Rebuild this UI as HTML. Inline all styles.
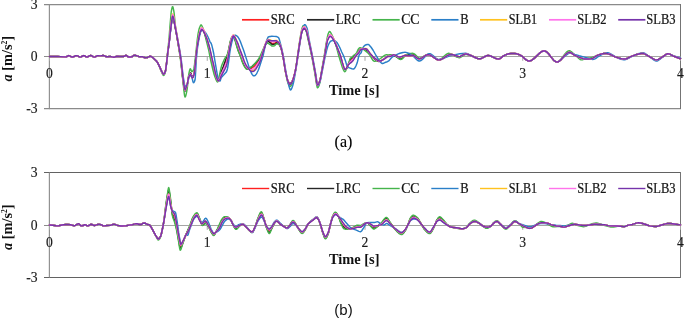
<!DOCTYPE html>
<html><head><meta charset="utf-8">
<style>
html,body{margin:0;padding:0;background:#fff;width:685px;height:318px;overflow:hidden}
svg{display:block}
.tk{font-family:"Liberation Serif",serif;font-size:13px;fill:#1a1a1a;stroke:#1a1a1a;stroke-width:0.15px}
.lg{font-family:"Liberation Serif",serif;font-size:12.6px;fill:#151515;stroke:#151515;stroke-width:0.22px}
.ttl{font-family:"Liberation Serif",serif;font-size:14.4px;font-weight:bold;fill:#111}
.capa{font-family:"Liberation Serif",serif;font-size:16px;fill:#000;stroke:#000;stroke-width:0.15px}
.capb{font-family:"Liberation Sans",sans-serif;font-size:15px;fill:#111}
</style></head><body>
<div style="will-change:transform"><svg width="685" height="318" viewBox="0 0 685 318">
<path d="M49.0 4.62 H681.0 M49.0 108.62 H681.0" stroke="#8a8a8a" stroke-width="1.25"/>
<path d="M49.4 4.0 V109.0" stroke="#929292" stroke-width="1.2"/>
<path d="M680.5 4.0 V109.0" stroke="#747474" stroke-width="1"/>
<path d="M44 4.62 H49.5" stroke="#8a8a8a" stroke-width="1.25"/>
<path d="M44 108.62 H49.5" stroke="#8a8a8a" stroke-width="1.25"/>
<path d="M44 56.5 H49.5" stroke="#8c8c8c" stroke-width="1"/>
<path d="M49.5 56.5 H680.5" stroke="#a4a4a4" stroke-width="1"/>
<path d="M49.50 57.0 V60.8" stroke="#a4a4a4" stroke-width="1"/>
<path d="M207.25 57.0 V60.8" stroke="#a4a4a4" stroke-width="1"/>
<path d="M365.00 57.0 V60.8" stroke="#a4a4a4" stroke-width="1"/>
<path d="M522.75 57.0 V60.8" stroke="#a4a4a4" stroke-width="1"/>
<path d="M680.50 57.0 V60.8" stroke="#a4a4a4" stroke-width="1"/>
<path d="M49.5 56.50L57.90 56.54 60.30 56.61 64.10 56.85 66.10 56.90 66.70 56.70 68.30 55.71 68.90 55.60 69.70 55.83 71.50 56.81 71.90 56.95 72.30 57.00 72.70 56.96 73.30 56.80 75.70 55.73 76.50 55.60 76.90 55.65 77.50 55.87 79.50 56.96 79.90 57.07 80.30 57.10 81.10 56.87 83.10 55.75 83.50 55.63 83.90 55.60 84.30 55.70 84.70 55.89 86.30 56.86 86.90 57.00 87.30 56.95 87.90 56.73 89.90 55.64 90.30 55.53 90.70 55.50 91.50 55.73 93.50 56.87 94.10 57.07 94.50 57.10 95.30 56.88 96.90 55.97 97.70 55.65 98.30 55.61 100.50 55.85 102.70 55.53 103.30 55.50 104.10 55.68 105.90 56.54 106.70 56.78 107.50 56.78 109.50 56.52 110.30 56.51 111.10 56.64 112.90 57.10 113.90 57.20 114.70 57.05 116.30 56.48 117.10 56.31 119.90 56.50 123.50 56.49 124.10 56.27 125.30 55.52 125.90 55.40 126.30 55.50 126.70 55.71 128.30 56.80 128.70 56.96 129.10 57.00 130.30 56.94 131.70 56.76 132.30 56.48 133.90 55.39 134.30 55.24 134.70 55.20 135.50 55.33 137.10 55.83 138.90 56.57 139.50 56.75 140.10 56.80 141.70 56.61 142.30 56.63 142.90 56.84 144.30 57.55 144.70 57.67 145.10 57.70 146.30 57.63 147.50 57.46 148.10 57.20 149.50 56.43 149.90 56.32 150.30 56.31 151.10 56.55 152.10 57.05 152.50 57.32 155.90 60.44 156.70 61.33 157.70 62.90 159.10 65.60 161.10 70.09 162.70 73.38 163.10 74.01 163.30 74.21 163.50 74.33 163.70 74.33 163.90 74.23 164.30 73.78 165.10 72.20 165.30 71.58 165.70 69.53 166.70 62.10 167.70 53.00 169.10 43.20 170.50 30.32 171.50 22.71 172.10 18.78 172.30 17.89 172.50 17.32 172.70 17.11 172.90 17.22 173.10 17.54 173.30 18.05 173.70 19.52 174.10 21.43 176.30 33.03 179.70 52.35 180.90 60.33 182.50 75.81 183.70 84.89 184.10 87.54 184.50 89.53 184.70 90.17 184.90 90.51 185.10 90.53 185.30 90.38 185.50 90.10 185.90 89.23 187.10 85.33 187.50 83.30 188.50 77.37 188.90 76.06 189.70 74.31 190.10 73.72 190.30 73.55 190.50 73.46 190.70 73.51 190.90 73.78 191.10 74.23 191.70 76.04 192.10 77.02 192.30 77.27 192.50 77.28 192.70 77.16 192.90 76.93 193.30 76.18 194.10 73.85 194.30 72.82 194.70 69.60 195.50 61.25 196.70 49.80 197.50 44.32 199.10 36.08 199.90 32.68 200.90 30.06 201.30 29.38 201.50 29.20 201.70 29.16 201.90 29.21 202.30 29.50 203.10 30.45 203.50 31.04 204.10 32.18 205.10 34.57 206.90 40.00 208.10 43.99 209.30 48.46 211.50 58.46 214.30 70.36 215.50 75.04 216.10 77.13 216.70 78.77 217.50 80.50 217.90 80.98 218.10 81.02 218.30 80.89 218.50 80.64 219.30 78.96 220.10 76.19 220.90 73.83 223.90 66.74 226.70 59.28 227.30 57.37 227.90 55.11 228.70 51.30 229.90 44.97 230.90 40.89 231.30 39.64 232.10 37.52 232.50 36.78 232.70 36.53 232.90 36.39 233.10 36.35 233.30 36.42 233.50 36.57 234.10 37.28 234.70 38.37 235.10 39.31 235.70 40.92 236.90 44.74 238.90 50.41 241.10 55.95 242.70 60.52 243.90 63.37 244.90 65.27 245.90 66.87 246.50 67.69 246.90 68.11 247.30 68.39 248.30 68.67 249.70 68.81 250.70 68.55 251.90 67.98 253.70 66.71 254.90 65.66 255.90 64.60 257.70 62.37 259.30 60.17 260.50 58.19 261.30 56.42 262.50 52.72 264.10 48.46 265.70 43.67 266.30 42.52 267.30 41.46 267.90 41.13 268.30 41.14 268.70 41.25 269.30 41.54 270.50 42.27 271.70 43.22 272.10 43.38 273.30 43.32 275.10 43.02 276.30 42.52 276.70 42.44 277.10 42.48 277.50 42.63 278.50 43.28 279.30 44.11 280.10 45.55 281.10 48.13 281.70 50.32 282.50 53.95 283.30 57.98 284.90 68.15 285.50 71.52 286.50 76.12 287.30 79.26 287.90 80.94 288.70 82.47 289.10 83.10 289.50 83.57 289.90 83.79 290.10 83.79 290.50 83.61 291.10 82.98 291.70 82.11 292.30 81.13 292.70 80.26 293.70 77.33 294.90 72.82 295.50 70.15 296.10 66.77 299.70 42.94 301.30 33.90 301.70 32.10 302.10 30.85 302.70 29.80 303.30 28.98 303.70 28.62 304.10 28.45 304.50 28.51 305.10 28.98 305.70 29.79 306.30 30.77 306.70 31.79 307.30 34.06 310.10 46.73 312.50 58.49 315.10 72.38 316.50 81.52 316.90 83.65 317.30 85.01 317.50 85.31 317.70 85.34 317.90 85.23 318.30 84.74 318.90 83.49 319.90 80.69 320.30 79.11 324.50 56.42 326.30 45.07 326.70 42.84 327.10 41.05 327.70 39.22 328.70 36.92 329.10 36.22 329.50 35.72 329.90 35.46 330.10 35.43 330.50 35.53 330.90 35.80 331.50 36.42 332.10 37.23 333.50 39.32 334.90 42.25 336.30 45.57 338.50 51.46 340.30 55.75 340.90 57.73 342.10 62.37 343.70 67.60 344.10 68.51 344.30 68.81 344.50 68.98 344.90 69.11 345.30 69.08 345.70 68.92 346.30 68.54 346.70 68.16 347.30 66.97 348.50 63.99 350.10 61.08 350.90 59.89 351.50 59.27 353.10 58.21 353.90 57.45 355.90 55.01 358.30 52.40 359.70 50.40 360.30 49.65 360.90 49.21 361.70 49.09 363.50 49.10 365.30 49.27 365.90 49.38 366.50 49.70 367.50 50.65 369.70 53.46 372.70 56.94 373.90 58.18 375.90 59.76 377.10 60.60 378.10 61.11 378.70 61.28 379.10 61.33 379.70 61.29 380.30 61.14 381.50 60.58 384.90 58.34 386.90 56.75 387.70 56.27 389.50 55.74 392.70 55.35 393.70 55.35 394.30 55.45 395.70 55.96 397.90 56.93 398.50 57.10 399.10 57.16 400.90 56.81 403.70 55.81 404.90 55.53 405.90 55.52 408.10 55.75 409.10 55.80 411.90 55.54 412.90 55.51 413.70 55.70 414.50 56.10 416.90 57.81 417.90 58.42 418.70 58.72 419.30 58.80 420.30 58.65 421.50 58.14 422.50 57.54 425.10 55.73 426.30 55.06 426.90 54.81 427.50 54.66 428.50 54.62 429.70 54.92 430.90 55.50 432.10 56.27 435.10 58.44 436.50 59.27 437.70 59.74 438.30 59.87 438.90 59.90 439.50 59.85 440.30 59.68 441.70 59.14 443.30 58.25 447.50 55.58 448.90 54.90 450.10 54.52 451.30 54.40 452.50 54.56 453.70 54.91 457.30 56.29 458.30 56.52 459.30 56.60 460.10 56.47 460.90 56.17 463.50 54.73 464.50 54.26 465.30 54.04 465.90 54.00 466.70 54.08 467.70 54.32 471.30 55.64 472.70 56.25 476.30 58.04 477.50 58.49 478.50 58.73 479.70 58.79 480.90 58.54 482.30 57.94 484.90 56.51 485.90 56.03 487.10 55.62 488.10 55.50 489.30 55.63 490.70 56.06 491.90 56.58 494.90 58.06 496.30 58.62 497.50 58.92 498.50 59.00 499.10 58.89 499.90 58.55 500.90 57.88 503.50 55.88 504.10 55.55 506.70 54.40 507.90 53.98 508.90 53.75 510.90 53.56 512.50 53.50 514.70 53.59 516.70 53.83 518.10 54.26 520.30 55.20 521.10 55.62 522.10 56.32 525.30 59.09 526.70 60.15 527.50 60.60 528.10 60.84 528.70 60.97 529.30 60.99 530.10 60.87 531.10 60.52 531.90 60.09 532.90 59.40 534.70 57.86 538.90 53.76 539.90 52.89 540.90 52.14 541.70 51.64 542.50 51.26 543.30 51.00 544.10 50.90 544.70 50.95 545.50 51.22 546.10 51.56 546.90 52.17 547.70 52.94 548.70 54.05 552.10 58.37 553.70 60.17 554.50 60.90 555.30 61.46 556.10 61.84 556.90 62.00 557.50 61.95 558.30 61.71 558.90 61.40 559.70 60.84 561.30 59.35 564.70 55.49 566.30 53.88 567.10 53.24 567.90 52.74 568.70 52.41 569.50 52.30 570.30 52.43 571.10 52.79 574.50 55.14 577.70 56.66 579.30 57.31 582.90 58.63 584.10 58.96 585.10 59.09 588.50 58.98 590.90 58.76 591.90 58.60 592.50 58.38 593.30 57.95 596.10 56.02 597.30 55.38 600.10 54.38 601.90 53.84 603.50 53.51 604.90 53.40 605.90 53.45 607.10 53.64 610.30 54.50 611.70 55.06 614.50 56.57 615.90 57.17 620.50 58.56 622.10 58.89 623.50 59.07 624.90 59.07 625.50 58.97 626.30 58.73 627.50 58.23 630.70 56.66 634.10 55.34 635.70 54.80 639.90 53.71 641.30 53.47 642.50 53.40 643.10 53.45 643.70 53.57 645.10 54.13 648.50 56.09 650.30 57.03 653.70 59.10 654.90 59.63 655.90 59.87 656.50 59.90 657.10 59.82 657.70 59.65 658.50 59.31 662.50 56.95 665.10 55.05 666.10 54.40 667.10 53.95 667.90 53.80 668.70 53.87 669.70 54.15 670.70 54.60 672.90 55.79 673.90 56.26 680.50 58.70" fill="none" stroke="#ff2020" stroke-width="1.45" stroke-linejoin="round" stroke-linecap="round"/>
<path d="M49.5 56.50L57.90 56.54 60.30 56.61 64.10 56.85 66.10 56.90 66.70 56.70 68.30 55.71 68.90 55.60 69.70 55.83 71.50 56.81 71.90 56.95 72.30 57.00 72.70 56.96 73.30 56.80 75.70 55.73 76.50 55.60 76.90 55.65 77.50 55.87 79.50 56.96 79.90 57.07 80.30 57.10 81.10 56.87 83.10 55.75 83.50 55.63 83.90 55.60 84.30 55.70 84.70 55.89 86.30 56.86 86.90 57.00 87.30 56.95 87.90 56.73 89.90 55.64 90.30 55.53 90.70 55.50 91.50 55.73 93.50 56.87 94.10 57.07 94.50 57.10 95.30 56.88 96.90 55.97 97.70 55.65 98.30 55.61 100.50 55.85 102.70 55.53 103.30 55.50 104.10 55.68 105.90 56.54 106.70 56.78 107.50 56.78 109.50 56.52 110.30 56.51 111.10 56.64 112.90 57.10 113.90 57.20 114.70 57.05 116.30 56.48 117.10 56.31 119.90 56.50 123.50 56.49 124.10 56.27 125.30 55.52 125.90 55.40 126.30 55.50 126.70 55.71 128.30 56.80 128.70 56.96 129.10 57.00 130.30 56.94 131.70 56.76 132.30 56.48 133.90 55.39 134.30 55.24 134.70 55.20 135.50 55.33 137.10 55.83 138.90 56.57 139.50 56.75 140.10 56.80 141.70 56.61 142.30 56.63 142.90 56.84 144.30 57.55 144.70 57.67 145.10 57.70 146.30 57.63 147.50 57.46 148.10 57.20 149.50 56.43 149.90 56.32 150.30 56.31 151.10 56.55 152.10 57.05 152.50 57.32 155.90 60.44 156.70 61.33 157.70 62.90 159.10 65.60 161.10 70.08 162.70 73.41 163.10 74.06 163.30 74.27 163.50 74.38 163.70 74.39 163.90 74.28 164.30 73.82 165.10 72.20 165.30 71.57 165.70 69.51 166.70 62.10 167.70 53.00 169.10 43.20 170.70 28.71 171.90 20.19 172.30 18.25 172.50 17.70 172.70 17.50 172.90 17.61 173.30 18.42 173.70 19.85 174.10 21.72 176.10 32.11 179.70 52.70 180.90 60.78 182.50 76.62 183.70 85.57 184.10 88.13 184.50 90.03 184.70 90.64 184.90 90.96 185.10 90.98 185.30 90.83 185.50 90.54 185.90 89.65 187.10 85.61 187.50 83.47 188.50 77.13 188.90 75.74 189.70 73.92 190.10 73.31 190.30 73.12 190.50 73.01 190.70 73.04 190.90 73.30 191.10 73.75 191.70 75.66 192.10 76.70 192.30 76.96 192.50 76.98 192.70 76.86 192.90 76.64 193.30 75.90 193.70 74.89 194.10 73.62 194.30 72.51 194.70 69.17 196.50 51.30 196.90 48.00 197.30 45.35 198.30 39.89 199.70 33.32 200.10 32.00 200.90 29.88 201.30 29.18 201.50 29.02 201.70 29.01 201.90 29.08 202.30 29.40 203.10 30.32 203.50 30.93 204.50 33.00 205.30 35.23 207.30 41.74 209.10 48.39 209.70 50.95 211.10 57.83 212.70 64.42 214.10 70.53 215.30 75.09 215.90 77.14 216.50 78.78 217.30 80.46 217.70 81.05 217.90 81.18 218.10 81.17 218.30 80.98 218.50 80.63 218.90 79.64 219.30 78.49 220.10 75.00 220.70 73.14 221.70 70.49 223.30 66.57 226.10 58.59 227.50 54.81 228.30 51.76 228.90 49.03 229.90 43.93 230.70 40.79 231.10 39.52 232.10 37.10 232.50 36.47 232.70 36.32 232.90 36.31 233.30 36.58 234.10 37.65 234.50 38.43 234.90 39.41 235.50 41.09 236.90 46.17 238.10 49.89 239.10 52.59 240.90 56.94 242.30 61.09 242.90 62.63 243.90 64.71 244.90 66.36 245.90 67.76 246.50 68.49 246.90 68.83 247.30 68.99 247.70 68.98 248.30 68.86 249.50 68.40 249.90 68.16 251.10 67.18 255.10 63.48 256.30 62.29 257.90 60.52 260.10 57.85 260.90 56.59 261.30 55.72 262.30 52.77 263.90 48.74 265.10 45.09 265.70 43.48 266.10 42.74 266.90 41.98 267.50 41.61 267.90 41.50 268.30 41.54 268.70 41.68 269.30 42.06 270.50 43.00 271.70 44.26 272.10 44.49 273.30 44.40 275.10 43.97 276.50 43.13 276.90 43.01 277.30 43.03 277.70 43.15 278.30 43.48 278.90 43.92 279.50 44.60 280.30 46.20 281.10 48.28 281.90 51.22 283.30 57.99 285.30 70.49 286.50 76.08 287.30 79.17 287.90 80.80 288.50 81.91 289.10 82.85 289.50 83.28 289.90 83.49 290.10 83.49 290.50 83.32 291.10 82.75 291.70 81.94 292.30 81.00 292.70 80.16 293.70 77.28 294.90 72.81 295.50 70.16 296.10 66.78 299.70 42.96 301.50 32.79 301.90 31.23 302.30 30.34 302.90 29.45 303.30 28.98 303.70 28.66 304.10 28.51 304.50 28.56 304.90 28.81 305.50 29.47 306.10 30.34 306.50 31.13 307.10 33.15 310.10 46.79 312.50 58.65 315.10 72.54 316.70 82.84 317.10 84.60 317.30 85.16 317.50 85.46 317.70 85.49 317.90 85.38 318.30 84.87 318.90 83.57 319.90 80.68 320.30 79.06 324.50 56.10 326.30 44.56 326.90 41.44 327.30 40.00 328.50 36.88 328.90 36.07 329.30 35.46 329.70 35.09 329.90 35.01 330.30 35.06 330.70 35.28 331.30 35.88 331.90 36.69 332.90 38.14 333.50 39.14 334.90 42.12 336.30 45.53 338.50 51.74 340.30 56.00 340.70 57.31 341.90 61.99 343.30 66.72 343.90 68.34 344.30 68.92 344.50 69.00 345.30 68.91 346.10 68.67 346.50 68.50 346.70 68.34 346.90 68.04 347.30 67.14 348.50 63.72 350.30 59.74 351.10 58.41 351.70 57.86 353.30 57.12 353.70 56.86 354.30 56.34 356.30 54.17 358.30 51.89 360.10 49.51 360.70 49.06 361.10 49.00 362.70 49.08 364.50 49.32 365.70 49.55 366.30 49.86 366.90 50.35 367.50 50.98 372.70 57.21 373.90 58.50 375.90 60.07 377.10 60.88 378.10 61.35 378.90 61.50 379.90 61.36 381.10 60.83 384.90 58.23 387.50 56.27 389.10 55.50 389.90 55.30 392.30 55.43 393.90 55.61 394.50 55.77 395.70 56.36 398.10 57.99 398.90 58.47 399.90 58.88 400.70 59.00 401.30 58.88 402.10 58.42 402.90 57.73 404.70 55.94 405.70 55.20 406.10 55.03 407.30 54.73 409.70 54.25 411.10 54.08 412.50 54.00 413.10 54.05 413.50 54.19 414.10 54.53 414.70 55.01 416.90 57.22 417.70 57.92 418.50 58.41 418.90 58.55 419.30 58.60 420.30 58.46 421.50 57.97 422.50 57.40 425.10 55.68 426.30 55.03 427.50 54.65 428.50 54.62 429.70 54.92 430.90 55.50 432.10 56.27 435.10 58.44 436.50 59.27 437.70 59.74 438.30 59.87 438.90 59.90 440.10 59.73 441.50 59.23 443.10 58.37 446.50 56.17 447.90 55.36 449.30 54.75 450.10 54.52 450.70 54.43 451.70 54.42 452.70 54.60 453.90 54.98 457.30 56.29 458.30 56.52 459.30 56.60 460.10 56.47 460.90 56.17 463.50 54.73 464.50 54.26 465.50 54.02 466.50 54.05 468.10 54.45 471.70 55.80 475.70 57.77 476.90 58.28 478.10 58.65 479.30 58.80 480.30 58.70 481.50 58.32 482.50 57.84 485.30 56.31 486.50 55.79 487.70 55.52 488.70 55.53 489.70 55.73 490.90 56.14 494.70 57.97 496.10 58.55 497.30 58.89 498.50 59.00 499.10 58.89 499.90 58.55 500.90 57.88 503.50 55.88 504.10 55.55 506.70 54.40 507.90 53.98 508.90 53.75 510.90 53.56 512.50 53.50 514.70 53.59 516.70 53.83 518.10 54.26 520.30 55.20 521.10 55.62 522.10 56.32 525.30 59.09 526.70 60.15 527.50 60.60 528.10 60.84 528.70 60.97 529.30 60.99 530.10 60.87 531.10 60.52 531.90 60.09 532.90 59.40 534.70 57.86 538.90 53.76 539.90 52.89 540.90 52.14 541.70 51.64 542.50 51.26 543.30 51.00 544.10 50.90 544.70 50.95 545.50 51.22 546.10 51.56 546.90 52.17 547.70 52.94 548.70 54.05 552.10 58.37 553.70 60.17 554.50 60.90 555.30 61.46 556.10 61.84 556.90 62.00 557.50 61.95 558.30 61.71 558.90 61.40 559.70 60.84 561.30 59.35 564.70 55.49 566.30 53.88 567.10 53.24 567.90 52.74 568.70 52.41 569.50 52.30 570.30 52.43 571.10 52.79 574.50 55.14 577.70 56.66 579.30 57.31 582.90 58.63 584.10 58.96 585.10 59.09 588.50 58.98 590.90 58.76 591.90 58.60 592.50 58.38 593.30 57.95 596.10 56.02 597.30 55.38 600.10 54.38 601.90 53.84 603.50 53.51 604.90 53.40 605.90 53.45 607.10 53.64 610.30 54.50 611.70 55.06 614.50 56.57 615.90 57.17 620.50 58.56 622.10 58.89 623.50 59.07 624.90 59.07 625.50 58.97 626.30 58.73 627.50 58.23 630.70 56.66 634.10 55.34 635.70 54.80 639.90 53.71 641.30 53.47 642.50 53.40 643.10 53.45 643.70 53.57 645.10 54.13 648.50 56.09 650.30 57.03 653.70 59.10 654.90 59.63 655.90 59.87 656.50 59.90 657.10 59.82 657.70 59.65 658.50 59.31 662.50 56.95 665.10 55.05 666.10 54.40 667.10 53.95 667.90 53.80 668.70 53.87 669.70 54.15 670.70 54.60 672.90 55.79 673.90 56.26 680.50 58.70" fill="none" stroke="#262626" stroke-width="1.45" stroke-linejoin="round" stroke-linecap="round"/>
<path d="M49.5 56.50L57.90 56.54 60.30 56.61 64.10 56.85 66.10 56.90 66.70 56.70 68.30 55.71 68.90 55.60 69.70 55.83 71.50 56.81 71.90 56.95 72.30 57.00 72.70 56.96 73.30 56.80 75.70 55.73 76.50 55.60 76.90 55.65 77.50 55.87 79.50 56.96 79.90 57.07 80.30 57.10 81.10 56.87 83.10 55.75 83.50 55.63 83.90 55.60 84.30 55.70 84.70 55.89 86.30 56.86 86.90 57.00 87.30 56.95 87.90 56.73 89.90 55.64 90.30 55.53 90.70 55.50 91.50 55.73 93.50 56.87 94.10 57.07 94.50 57.10 95.30 56.88 96.90 55.97 97.70 55.65 98.30 55.61 100.50 55.85 102.70 55.53 103.30 55.50 104.10 55.68 105.90 56.54 106.70 56.78 107.50 56.78 109.50 56.52 110.30 56.51 111.10 56.64 112.90 57.10 113.90 57.20 114.70 57.05 116.30 56.48 117.10 56.31 119.90 56.50 123.50 56.49 124.10 56.27 125.30 55.52 125.90 55.40 126.30 55.50 126.70 55.71 128.30 56.80 128.70 56.96 129.10 57.00 130.30 56.94 131.70 56.76 132.30 56.48 133.90 55.39 134.30 55.24 134.70 55.20 135.50 55.33 137.10 55.83 138.90 56.57 139.50 56.75 140.10 56.80 141.70 56.61 142.30 56.63 142.90 56.84 144.30 57.55 144.70 57.67 145.10 57.70 146.30 57.63 147.50 57.46 148.10 57.20 149.50 56.43 149.90 56.32 150.30 56.31 150.70 56.40 151.30 56.64 152.10 57.05 152.70 57.47 155.50 60.15 156.70 61.54 157.70 63.18 159.10 66.00 161.10 70.90 162.70 74.46 163.10 75.14 163.30 75.36 163.50 75.48 163.70 75.49 163.90 75.37 164.30 74.85 165.10 73.00 165.30 72.26 165.70 69.77 166.70 61.11 167.70 51.06 168.90 40.00 170.10 24.62 171.10 12.99 171.30 11.50 171.90 8.34 172.30 6.96 172.50 6.64 172.70 6.64 172.90 6.97 173.10 7.56 173.70 10.40 174.10 12.92 175.30 24.70 175.90 29.75 179.10 50.26 180.30 58.50 180.90 63.22 182.90 80.82 184.10 92.12 184.50 95.06 184.70 96.10 184.90 96.76 185.10 97.00 185.30 96.88 185.50 96.55 185.90 95.34 186.30 93.61 187.10 89.42 187.50 86.11 188.50 75.99 188.90 73.50 189.70 69.92 190.10 68.94 190.30 68.80 190.50 68.93 190.70 69.27 191.50 71.22 191.70 71.47 192.10 71.44 192.70 71.03 193.50 70.00 193.70 69.50 193.90 68.65 194.50 64.63 195.50 56.34 197.30 39.66 198.10 33.55 198.90 29.81 199.50 27.76 200.50 25.50 200.90 24.98 201.10 24.90 201.30 24.97 201.70 25.45 202.70 27.46 203.50 29.83 204.50 33.30 208.50 49.22 209.10 52.00 209.90 56.46 210.70 60.35 212.90 69.83 213.90 73.67 214.90 76.79 215.70 78.86 216.90 81.32 217.30 81.86 217.50 81.98 217.70 81.95 217.90 81.58 218.70 78.75 221.10 67.69 221.70 65.48 222.50 63.44 224.50 59.07 225.30 57.70 226.50 56.17 226.90 55.41 227.30 54.46 227.90 52.68 228.30 51.20 230.10 42.11 230.90 39.17 231.30 38.00 231.70 37.14 232.50 36.19 232.90 35.94 233.10 35.90 233.30 35.96 233.70 36.39 234.30 37.50 236.50 45.45 237.90 50.12 238.50 51.74 239.90 54.90 240.50 56.40 241.90 60.95 242.90 63.55 243.70 65.32 244.50 66.70 245.90 68.62 246.50 69.18 246.90 69.37 247.30 69.39 247.70 69.30 249.10 68.60 249.50 68.33 250.70 67.32 252.30 66.23 253.10 65.60 254.50 64.11 257.90 59.87 258.90 58.42 259.70 56.96 264.70 45.68 265.30 44.72 266.30 43.79 266.90 43.39 267.30 43.24 267.70 43.20 268.10 43.29 268.70 43.60 270.10 44.57 271.50 45.81 272.10 46.09 273.30 46.03 274.50 45.80 274.90 45.49 275.70 44.35 276.10 44.02 278.10 44.01 278.30 44.06 278.70 44.32 279.10 44.74 279.50 45.29 280.70 47.41 281.30 49.13 281.90 51.42 283.30 57.93 285.50 71.97 286.70 78.07 287.50 81.47 287.90 82.74 289.10 85.56 289.50 86.18 289.70 86.38 289.90 86.49 290.30 86.42 290.70 86.08 291.30 85.24 292.10 83.81 292.50 82.89 292.90 81.73 293.50 79.62 294.50 75.34 295.30 71.48 295.90 67.84 299.30 43.30 300.90 33.25 301.50 30.37 302.30 27.51 302.70 26.39 302.90 26.03 303.10 25.83 303.30 25.81 303.70 25.99 304.10 26.37 304.70 27.19 305.30 28.18 305.90 29.80 306.50 32.14 307.90 38.67 310.30 49.35 312.10 58.15 314.90 73.55 316.30 82.93 316.70 85.25 317.10 86.95 317.30 87.48 317.50 87.76 317.70 87.79 318.10 87.47 318.70 86.34 319.30 84.65 319.90 82.61 320.30 80.32 321.50 71.38 324.10 56.69 325.90 45.18 326.70 40.51 327.50 36.47 328.10 34.04 328.90 32.22 329.30 31.65 329.50 31.52 329.70 31.51 329.90 31.60 330.30 31.99 330.70 32.59 331.90 34.75 332.70 36.59 334.90 42.34 335.70 44.55 336.50 47.00 338.90 56.35 342.30 67.21 342.90 68.79 343.70 70.43 344.30 71.39 344.70 71.69 344.90 71.69 345.10 71.59 345.30 71.40 345.70 70.82 347.10 67.77 347.70 66.12 349.90 59.13 350.30 58.22 350.50 58.00 350.70 57.90 351.50 57.68 351.90 57.47 352.30 57.04 353.10 55.95 353.50 55.50 354.10 55.04 355.50 54.15 356.10 53.59 356.70 52.59 357.90 49.95 358.30 49.21 359.30 48.02 359.70 47.74 359.90 47.70 360.30 47.75 360.90 47.95 362.90 49.01 365.70 51.09 367.70 52.78 368.90 53.97 369.70 54.94 370.30 55.89 372.10 59.09 372.90 60.24 373.30 60.67 373.70 60.96 374.30 61.31 374.70 61.40 375.10 61.35 375.70 61.15 378.90 59.51 380.50 58.49 382.50 56.85 384.30 55.62 385.10 55.14 385.90 54.84 386.50 54.80 388.10 54.98 388.70 54.99 390.50 54.64 391.30 54.61 392.70 54.81 394.50 55.30 395.10 55.55 395.90 56.09 398.30 58.27 399.10 58.90 399.90 59.33 400.70 59.50 401.30 59.37 402.10 58.88 402.90 58.12 405.30 55.47 405.90 54.98 406.90 54.43 408.10 53.87 409.10 53.56 410.90 53.37 412.70 53.30 413.10 53.36 413.70 53.63 415.30 54.72 415.90 55.29 417.90 57.55 418.50 58.03 419.10 58.28 419.50 58.29 420.10 58.21 421.10 57.88 422.30 57.25 424.90 55.57 426.10 54.91 427.30 54.49 428.30 54.41 428.90 54.48 429.50 54.64 430.90 55.28 432.10 56.04 435.10 58.16 436.50 58.98 437.70 59.45 438.70 59.60 439.30 59.56 439.90 59.40 441.10 58.78 442.30 57.88 445.10 55.36 446.30 54.39 447.50 53.67 448.10 53.44 448.70 53.32 449.50 53.35 450.30 53.60 453.90 55.44 456.70 57.00 457.70 57.42 458.70 57.67 459.50 57.68 460.30 57.46 461.30 56.93 463.50 55.39 464.30 54.92 465.30 54.55 466.10 54.51 467.10 54.60 468.10 54.78 471.50 55.68 472.90 56.26 476.70 58.16 477.70 58.53 478.70 58.75 479.90 58.77 481.10 58.47 482.30 57.94 484.90 56.51 485.90 56.03 487.10 55.62 488.10 55.50 489.10 55.59 490.30 55.91 491.70 56.48 494.50 57.87 495.70 58.40 497.10 58.85 498.30 59.00 499.10 58.89 499.90 58.55 500.70 58.03 502.70 56.45 503.70 55.76 505.90 54.74 507.50 54.11 508.90 53.75 510.50 53.59 512.30 53.50 514.30 53.57 516.10 53.72 517.10 53.93 518.50 54.42 520.50 55.29 521.30 55.75 522.10 56.32 525.30 59.09 526.70 60.15 527.50 60.60 528.10 60.84 528.70 60.97 529.30 60.99 530.10 60.87 531.10 60.52 531.90 60.09 532.90 59.40 534.70 57.86 538.90 53.76 539.90 52.89 540.90 52.14 541.70 51.64 542.50 51.26 543.30 51.00 544.10 50.90 544.70 50.95 545.50 51.22 546.10 51.56 546.90 52.17 547.70 52.94 548.70 54.05 552.10 58.37 553.70 60.17 554.50 60.90 555.30 61.46 556.10 61.84 556.90 62.00 557.50 61.95 558.10 61.74 558.70 61.41 559.50 60.78 560.30 59.98 561.10 59.06 564.70 54.25 566.10 52.60 566.90 51.84 567.70 51.27 568.50 50.91 569.10 50.80 569.50 50.82 570.10 50.99 571.10 51.55 572.10 52.37 574.30 54.43 575.90 55.74 579.10 58.75 580.30 59.56 580.90 59.79 581.50 59.90 582.10 59.86 582.90 59.67 585.10 58.78 585.90 58.52 590.50 57.78 591.90 57.47 593.30 56.99 596.70 55.57 601.10 54.11 603.10 53.59 604.90 53.40 605.90 53.45 607.10 53.64 610.30 54.50 611.70 55.06 614.50 56.57 615.90 57.17 620.50 58.56 622.10 58.89 623.50 59.07 624.90 59.07 625.50 58.97 626.30 58.73 627.50 58.23 630.70 56.66 634.10 55.34 635.70 54.80 639.90 53.71 641.30 53.47 642.50 53.40 643.10 53.45 643.70 53.57 645.10 54.13 648.50 56.09 650.30 57.03 653.70 59.10 654.90 59.63 655.90 59.87 656.50 59.90 657.10 59.82 657.70 59.65 658.50 59.31 662.50 56.95 665.10 55.05 666.10 54.40 667.10 53.95 667.90 53.80 668.70 53.87 669.70 54.15 670.70 54.60 672.90 55.79 673.90 56.26 680.50 58.70" fill="none" stroke="#45b44b" stroke-width="1.45" stroke-linejoin="round" stroke-linecap="round"/>
<path d="M49.5 56.50L57.90 56.54 60.30 56.61 64.10 56.85 66.10 56.90 66.70 56.70 68.30 55.71 68.90 55.60 69.70 55.83 71.50 56.81 71.90 56.95 72.30 57.00 72.70 56.96 73.30 56.80 75.70 55.73 76.50 55.60 76.90 55.65 77.50 55.87 79.50 56.96 79.90 57.07 80.30 57.10 81.10 56.87 83.10 55.75 83.50 55.63 83.90 55.60 84.30 55.70 84.70 55.89 86.30 56.86 86.90 57.00 87.30 56.95 87.90 56.73 89.90 55.64 90.30 55.53 90.70 55.50 91.50 55.73 93.50 56.87 94.10 57.07 94.50 57.10 95.30 56.88 96.90 55.97 97.70 55.65 98.30 55.61 100.50 55.85 102.70 55.53 103.30 55.50 104.10 55.68 105.90 56.54 106.70 56.78 107.50 56.78 109.50 56.52 110.30 56.51 111.10 56.64 112.90 57.10 113.90 57.20 114.70 57.05 116.30 56.48 117.10 56.31 119.90 56.50 123.50 56.49 124.10 56.27 125.30 55.52 125.90 55.40 126.30 55.50 126.70 55.71 128.30 56.80 128.70 56.96 129.10 57.00 130.30 56.94 131.70 56.76 132.30 56.48 133.90 55.39 134.30 55.24 134.70 55.20 135.50 55.33 137.10 55.83 138.90 56.57 139.50 56.75 140.10 56.80 141.70 56.61 142.30 56.63 142.90 56.84 144.30 57.55 144.70 57.67 145.10 57.70 146.30 57.63 147.50 57.46 148.10 57.20 149.50 56.43 149.90 56.32 150.30 56.31 151.10 56.55 152.10 57.05 152.50 57.32 155.90 60.44 156.70 61.33 157.70 62.90 159.10 65.60 161.10 70.11 162.70 73.28 163.10 73.89 163.30 74.08 163.50 74.19 163.70 74.19 163.90 74.11 164.30 73.73 165.10 72.40 165.50 71.09 165.90 68.92 166.90 61.71 167.90 52.22 169.10 44.00 170.50 31.18 171.70 21.91 172.30 18.20 172.50 17.46 172.70 17.05 172.90 17.03 173.10 17.22 173.50 18.13 173.90 19.59 174.30 21.42 176.90 34.37 179.30 47.55 180.30 53.41 181.30 60.00 182.70 72.43 183.30 77.00 184.50 84.33 184.90 85.90 185.10 86.34 185.30 86.50 185.70 86.36 186.10 85.97 186.50 85.41 187.30 84.00 187.70 82.88 188.70 78.66 189.10 77.37 189.30 77.00 189.70 76.51 190.50 75.75 191.10 75.51 191.30 75.54 191.50 75.84 191.90 77.09 192.90 81.49 193.30 82.55 193.50 82.70 193.70 82.64 194.10 82.22 194.50 81.43 194.90 80.32 195.10 79.47 195.30 77.36 196.30 60.00 197.10 51.39 197.70 46.53 198.70 40.45 200.10 33.52 200.50 32.22 201.10 31.08 201.70 30.26 202.10 30.01 202.30 30.01 202.70 30.13 203.90 30.89 204.90 31.91 205.70 33.00 206.90 34.94 207.90 36.76 208.70 38.47 209.90 41.61 210.30 42.26 211.10 43.31 211.50 44.26 211.90 45.65 212.90 49.74 213.70 53.50 215.50 64.35 217.90 78.18 218.30 79.63 218.50 80.00 219.30 80.75 219.90 80.99 220.10 80.94 220.30 80.51 220.90 78.43 221.50 77.40 222.70 75.98 224.10 74.60 226.10 72.34 226.50 71.78 226.90 70.83 227.50 68.50 227.90 66.34 228.50 62.40 229.90 52.00 230.50 48.45 231.30 44.51 232.10 41.19 233.10 37.99 233.70 36.64 234.30 35.87 234.70 35.47 235.10 35.23 235.30 35.20 235.70 35.27 236.50 35.70 237.30 36.33 237.90 37.04 238.50 37.88 239.10 38.93 239.90 40.55 240.70 42.41 243.70 50.57 249.10 67.15 250.50 71.08 251.30 72.92 252.10 74.40 253.10 75.56 253.50 75.79 253.70 75.80 254.50 75.70 255.10 75.51 255.50 75.15 256.30 74.12 256.90 73.05 257.90 70.97 259.10 68.10 261.50 60.41 262.70 57.05 263.10 55.67 264.90 47.42 266.30 41.54 266.90 39.76 267.90 37.54 268.30 36.99 268.70 36.77 270.30 36.44 271.90 36.30 274.10 36.35 276.30 36.54 277.30 36.85 278.10 37.29 278.50 37.59 278.70 37.87 279.30 39.34 280.90 45.09 281.70 48.32 282.70 52.91 283.70 58.01 285.70 70.30 287.70 81.09 288.30 83.64 289.50 87.97 290.10 89.52 290.30 89.82 290.50 89.98 290.70 89.98 290.90 89.86 291.10 89.63 291.70 88.45 292.70 85.71 293.50 82.66 294.50 77.57 296.30 67.35 298.10 55.74 300.10 41.85 301.70 32.32 302.30 29.64 303.30 26.81 303.70 25.88 304.10 25.16 304.50 24.71 304.70 24.61 304.90 24.61 305.30 24.84 305.70 25.32 306.10 26.00 307.10 28.27 307.50 29.84 309.10 39.47 312.30 55.08 313.90 63.67 315.50 72.56 317.10 83.18 317.50 84.87 317.70 85.33 317.90 85.50 318.10 85.45 318.30 85.30 318.90 84.38 319.70 82.40 320.50 79.99 321.10 77.24 324.90 57.87 326.70 50.15 327.70 46.55 328.10 45.45 328.90 43.77 329.70 42.34 330.30 41.53 330.70 41.17 331.10 40.96 332.30 40.58 333.30 40.42 333.90 40.41 334.50 40.58 335.10 40.90 335.90 41.50 336.70 42.19 337.10 42.66 338.10 44.27 339.90 47.83 341.70 52.00 343.30 55.28 343.90 56.64 345.50 61.00 346.70 65.10 347.10 66.10 347.30 66.40 348.30 67.27 349.50 67.93 351.90 68.74 353.30 68.99 353.70 68.99 353.90 68.93 354.50 68.43 355.30 67.16 356.10 65.49 357.10 63.07 357.50 61.58 358.50 57.24 359.10 55.22 359.50 54.49 359.90 54.02 360.70 53.28 361.10 52.76 361.30 52.40 362.30 48.95 362.70 48.03 363.30 47.08 363.90 46.28 364.50 45.65 364.90 45.33 365.50 45.00 366.30 44.72 367.10 44.51 367.90 44.40 368.50 44.50 369.10 44.93 371.10 47.23 373.10 50.26 376.30 55.99 378.70 59.95 379.30 60.77 381.10 62.80 381.70 63.28 382.30 63.49 382.70 63.47 383.30 63.30 384.90 62.54 387.30 61.72 388.30 61.22 389.30 60.34 391.30 58.05 392.10 57.24 393.70 56.09 395.50 55.04 397.70 54.07 399.90 53.29 403.10 52.51 404.10 52.35 404.90 52.30 405.90 52.39 406.90 52.66 409.10 53.54 410.30 54.17 413.30 56.26 414.30 57.20 416.30 59.26 417.30 60.15 418.30 60.77 418.90 60.96 419.30 61.00 419.70 60.97 420.30 60.80 420.90 60.52 421.50 60.13 422.90 58.91 425.50 56.19 426.70 55.05 427.90 54.18 428.50 53.90 429.10 53.73 429.50 53.70 430.10 53.77 430.70 53.96 431.30 54.27 432.70 55.29 435.30 57.65 436.50 58.61 437.10 58.99 437.70 59.28 438.30 59.45 438.90 59.50 440.50 59.34 442.30 58.87 444.10 58.20 448.50 56.33 449.70 55.90 450.90 55.57 456.50 54.39 459.90 53.79 462.90 53.43 465.70 53.30 466.50 53.38 467.50 53.72 470.30 55.22 472.10 56.04 475.50 57.75 476.90 58.32 478.30 58.70 479.10 58.79 479.70 58.79 480.90 58.54 482.30 57.94 484.90 56.51 485.90 56.03 487.10 55.62 488.10 55.50 489.10 55.59 490.30 55.91 491.70 56.48 494.50 57.87 495.70 58.40 497.10 58.85 498.30 59.00 499.10 58.89 500.10 58.43 500.90 57.88 502.90 56.30 503.90 55.65 506.30 54.57 507.90 53.98 509.10 53.72 511.90 53.51 513.70 53.53 516.10 53.72 516.90 53.88 517.90 54.19 520.70 55.39 521.50 55.88 522.30 56.48 525.30 59.09 526.70 60.15 527.50 60.60 528.10 60.84 528.70 60.97 529.50 60.98 530.30 60.82 531.30 60.42 532.10 59.96 533.10 59.25 534.90 57.67 538.90 53.76 539.90 52.89 540.90 52.14 541.70 51.64 542.50 51.26 543.30 51.00 544.10 50.90 544.70 50.95 545.50 51.22 546.10 51.56 546.90 52.17 547.70 52.94 548.70 54.05 552.10 58.37 553.70 60.17 554.50 60.90 555.30 61.46 556.10 61.84 556.90 62.00 557.30 61.98 557.90 61.85 558.50 61.59 559.10 61.24 560.50 60.11 563.30 57.37 564.50 56.35 568.30 53.66 569.30 53.18 569.90 53.03 570.30 53.00 570.90 53.05 571.70 53.23 574.70 54.40 579.10 55.75 586.30 57.58 590.70 59.15 591.70 59.39 592.70 59.50 593.70 59.40 594.90 58.91 595.90 58.30 598.30 56.53 599.30 55.87 603.50 53.75 604.50 53.32 605.50 52.97 606.50 52.76 607.30 52.70 607.90 52.75 608.70 52.94 610.30 53.62 612.50 54.78 615.50 56.94 618.10 58.13 619.70 58.78 621.10 59.26 622.50 59.61 623.70 59.77 624.90 59.77 625.50 59.64 626.30 59.36 627.30 58.88 630.50 57.06 636.30 54.53 638.10 53.81 639.30 53.41 640.50 53.09 641.70 52.88 642.70 52.80 643.30 52.82 643.90 52.94 644.50 53.17 645.30 53.60 646.30 54.29 648.50 55.97 650.30 57.18 653.70 59.85 654.90 60.56 655.50 60.81 656.10 60.96 656.70 61.00 657.10 60.94 657.70 60.75 658.30 60.43 659.30 59.73 661.30 58.09 662.90 56.96 665.70 54.70 666.70 54.12 667.70 53.82 668.70 53.86 669.70 54.11 673.90 55.97 677.30 57.06 680.50 58.00" fill="none" stroke="#2a7fc8" stroke-width="1.45" stroke-linejoin="round" stroke-linecap="round"/>
<path d="M49.5 56.50L57.90 56.54 60.30 56.61 64.10 56.85 66.10 56.90 66.70 56.70 68.30 55.71 68.90 55.60 69.70 55.83 71.50 56.81 71.90 56.95 72.30 57.00 72.70 56.96 73.30 56.80 75.70 55.73 76.50 55.60 76.90 55.65 77.50 55.87 79.50 56.96 79.90 57.07 80.30 57.10 81.10 56.87 83.10 55.75 83.50 55.63 83.90 55.60 84.30 55.70 84.70 55.89 86.30 56.86 86.90 57.00 87.30 56.95 87.90 56.73 89.90 55.64 90.30 55.53 90.70 55.50 91.50 55.73 93.50 56.87 94.10 57.07 94.50 57.10 95.30 56.88 96.90 55.97 97.70 55.65 98.30 55.61 100.50 55.85 102.70 55.53 103.30 55.50 104.10 55.68 105.90 56.54 106.70 56.78 107.50 56.78 109.50 56.52 110.30 56.51 111.10 56.64 112.90 57.10 113.90 57.20 114.70 57.05 116.30 56.48 117.10 56.31 119.90 56.50 123.50 56.49 124.10 56.27 125.30 55.52 125.90 55.40 126.30 55.50 126.70 55.71 128.30 56.80 128.70 56.96 129.10 57.00 130.30 56.94 131.70 56.76 132.30 56.48 133.90 55.39 134.30 55.24 134.70 55.20 135.50 55.33 137.10 55.83 138.90 56.57 139.50 56.75 140.10 56.80 141.70 56.61 142.30 56.63 142.90 56.84 144.30 57.55 144.70 57.67 145.10 57.70 146.30 57.63 147.50 57.46 148.10 57.20 149.50 56.43 149.90 56.32 150.30 56.31 151.10 56.55 152.10 57.05 152.50 57.32 155.90 60.44 156.70 61.33 157.70 62.90 159.10 65.60 161.10 70.10 162.70 73.31 163.10 73.92 163.30 74.12 163.50 74.23 163.70 74.23 163.90 74.13 164.30 73.71 165.10 72.20 165.50 70.69 165.90 68.22 166.90 60.44 167.70 52.79 169.10 42.41 170.50 28.80 171.70 18.75 172.10 15.95 172.30 14.95 172.50 14.29 172.70 14.06 172.90 14.18 173.10 14.53 173.30 15.09 173.90 17.71 175.10 24.77 176.50 32.43 179.50 50.26 181.10 61.11 182.70 76.19 183.90 85.22 184.50 88.70 184.70 89.38 184.90 89.75 185.10 89.78 185.30 89.64 185.50 89.37 185.90 88.53 186.90 85.51 187.30 84.03 188.50 77.77 188.90 76.57 189.70 74.95 190.10 74.42 190.30 74.26 190.50 74.20 190.70 74.29 191.10 75.01 191.90 77.17 192.10 77.55 192.30 77.77 192.50 77.78 192.70 77.66 192.90 77.42 193.30 76.64 194.10 74.21 194.30 73.35 194.70 70.31 196.70 49.84 197.10 46.61 197.70 42.68 199.30 34.05 199.90 31.39 200.30 30.22 200.90 28.79 201.30 28.10 201.50 27.89 201.70 27.79 201.90 27.80 202.10 27.90 202.70 28.54 203.50 29.70 204.10 30.85 205.30 33.72 207.50 40.19 208.70 44.34 209.70 48.30 211.90 58.47 213.30 64.27 214.90 71.31 215.90 75.35 216.50 77.46 217.30 79.54 217.70 80.37 217.90 80.64 218.10 80.78 218.50 80.64 218.90 80.26 219.30 79.74 219.90 78.65 221.10 75.43 224.70 68.08 225.90 65.37 226.50 63.82 227.10 61.57 228.10 56.92 229.90 46.13 230.90 41.32 231.50 39.04 232.10 37.13 232.90 35.33 233.10 35.05 233.30 34.92 233.50 34.95 233.90 35.26 234.70 36.34 235.90 39.00 237.90 44.00 239.30 48.30 243.90 61.14 244.50 62.58 245.30 64.26 246.30 66.05 246.90 66.90 247.50 67.59 249.90 69.83 250.50 70.18 251.50 70.52 251.90 70.55 252.30 70.49 253.70 69.96 254.30 69.54 255.10 68.77 255.90 67.77 257.50 65.36 258.50 63.77 259.30 62.36 260.30 60.24 261.30 57.57 261.70 56.32 262.70 52.67 264.10 48.46 265.90 42.66 266.50 41.34 267.50 39.86 267.90 39.54 268.50 39.53 269.50 39.79 271.50 40.51 272.10 40.64 274.50 40.56 276.30 40.41 276.70 40.51 277.10 40.71 278.10 41.49 278.50 41.90 279.10 42.68 279.90 44.13 280.70 46.06 281.30 48.12 282.10 51.75 283.30 57.98 284.90 68.13 285.50 71.51 286.50 76.20 287.30 79.42 287.90 81.18 289.10 83.53 289.50 84.04 289.70 84.20 289.90 84.29 290.30 84.22 290.70 83.89 291.30 83.08 292.10 81.72 292.70 80.42 293.70 77.42 295.10 72.00 295.70 69.07 296.30 65.50 297.90 55.04 299.70 42.10 301.30 32.78 301.90 30.19 302.30 29.15 302.90 27.97 303.30 27.33 303.70 26.88 304.10 26.66 304.50 26.73 304.90 27.06 305.70 28.25 306.50 29.88 307.10 31.96 310.10 46.03 312.90 60.30 315.30 73.25 316.70 82.36 317.10 84.17 317.30 84.75 317.50 85.06 317.70 85.09 317.90 84.99 318.30 84.53 318.70 83.80 319.10 82.86 319.90 80.71 320.50 78.26 324.50 56.96 325.10 53.35 326.50 44.03 326.90 41.79 327.30 40.02 327.90 38.30 328.90 36.19 329.30 35.57 329.70 35.13 329.90 35.00 330.30 34.91 330.70 35.03 331.10 35.32 331.50 35.73 332.10 36.51 333.50 38.61 334.70 41.15 336.70 45.97 340.30 55.25 340.90 57.19 342.30 62.55 343.90 67.69 344.50 68.95 344.90 69.34 345.10 69.39 345.30 69.35 345.70 69.12 346.10 68.71 346.50 68.17 346.90 67.50 348.10 65.09 348.50 64.43 348.90 63.93 350.10 62.62 352.30 60.71 353.10 59.84 355.90 55.63 356.50 54.92 357.90 53.51 358.50 52.78 360.10 50.13 360.70 49.32 361.10 48.97 361.50 48.81 363.10 48.58 364.50 48.49 365.90 48.51 366.30 48.63 366.70 48.88 367.10 49.25 367.70 49.98 370.10 53.43 372.70 56.47 373.50 57.28 374.50 58.16 377.30 60.26 378.50 60.88 379.10 61.04 379.50 61.08 380.10 61.04 380.70 60.89 382.10 60.24 384.90 58.51 386.70 57.03 387.50 56.53 387.90 56.41 389.50 56.34 390.10 56.23 390.70 56.01 392.70 55.08 393.30 54.91 393.70 54.87 394.30 54.93 394.90 55.11 395.70 55.48 397.90 56.65 398.70 56.94 399.30 57.03 400.10 56.97 400.90 56.81 403.70 55.81 404.90 55.53 405.90 55.52 408.90 55.80 409.90 55.76 412.10 55.52 413.10 55.53 413.70 55.70 414.50 56.10 417.70 58.31 418.50 58.67 419.30 58.80 420.30 58.65 421.50 58.14 422.50 57.54 425.10 55.73 426.30 55.06 426.90 54.81 427.50 54.66 428.50 54.62 429.70 54.92 430.90 55.50 432.10 56.27 435.10 58.44 436.50 59.27 437.70 59.74 438.30 59.87 438.90 59.90 440.10 59.73 441.50 59.23 443.10 58.37 446.50 56.17 447.90 55.36 449.30 54.75 450.10 54.52 450.70 54.43 451.70 54.42 452.70 54.60 453.90 54.98 457.30 56.29 458.30 56.52 459.30 56.60 460.10 56.47 460.90 56.17 463.50 54.73 464.50 54.26 465.50 54.02 466.50 54.05 468.10 54.45 471.70 55.80 475.70 57.77 476.90 58.28 478.10 58.65 479.30 58.80 480.30 58.70 481.50 58.32 482.50 57.84 485.30 56.31 486.50 55.79 487.70 55.52 488.70 55.53 489.70 55.73 490.90 56.14 494.70 57.97 496.10 58.55 497.30 58.89 498.50 59.00 499.10 58.89 499.90 58.55 500.90 57.88 503.50 55.88 504.10 55.55 506.70 54.40 507.90 53.98 508.90 53.75 510.90 53.56 512.50 53.50 514.70 53.59 516.70 53.83 518.10 54.26 520.30 55.20 521.10 55.62 522.10 56.32 525.30 59.09 526.70 60.15 527.50 60.60 528.10 60.84 528.70 60.97 529.30 60.99 530.10 60.87 531.10 60.52 531.90 60.09 532.90 59.40 534.70 57.86 538.90 53.76 539.90 52.89 540.90 52.14 541.70 51.64 542.50 51.26 543.30 51.00 544.10 50.90 544.70 50.95 545.50 51.22 546.10 51.56 546.90 52.17 547.70 52.94 548.70 54.05 552.10 58.37 553.70 60.17 554.50 60.90 555.30 61.46 556.10 61.84 556.90 62.00 557.50 61.95 558.30 61.71 558.90 61.40 559.70 60.84 561.30 59.35 564.70 55.49 566.30 53.88 567.10 53.24 567.90 52.74 568.70 52.41 569.50 52.30 570.30 52.43 571.10 52.79 574.50 55.14 577.70 56.66 579.30 57.31 582.90 58.63 584.10 58.96 585.10 59.09 588.50 58.98 590.90 58.76 591.90 58.60 592.50 58.38 593.30 57.95 596.10 56.02 597.30 55.38 600.10 54.38 601.90 53.84 603.50 53.51 604.90 53.40 605.90 53.45 607.10 53.64 610.30 54.50 611.70 55.06 614.50 56.57 615.90 57.17 620.50 58.56 622.10 58.89 623.50 59.07 624.90 59.07 625.50 58.97 626.30 58.73 627.50 58.23 630.70 56.66 634.10 55.34 635.70 54.80 639.90 53.71 641.30 53.47 642.50 53.40 643.10 53.45 643.70 53.57 645.10 54.13 648.50 56.09 650.30 57.03 653.70 59.10 654.90 59.63 655.90 59.87 656.50 59.90 657.10 59.82 657.70 59.65 658.50 59.31 662.50 56.95 665.10 55.05 666.10 54.40 667.10 53.95 667.90 53.80 668.70 53.87 669.70 54.15 670.70 54.60 672.90 55.79 673.90 56.26 680.50 58.70" fill="none" stroke="#ffc21f" stroke-width="1.45" stroke-linejoin="round" stroke-linecap="round"/>
<path d="M49.5 56.50L57.90 56.54 60.30 56.61 64.10 56.85 66.10 56.90 66.70 56.70 68.30 55.71 68.90 55.60 69.70 55.83 71.50 56.81 71.90 56.95 72.30 57.00 72.70 56.96 73.30 56.80 75.70 55.73 76.50 55.60 76.90 55.65 77.50 55.87 79.50 56.96 79.90 57.07 80.30 57.10 81.10 56.87 83.10 55.75 83.50 55.63 83.90 55.60 84.30 55.70 84.70 55.89 86.30 56.86 86.90 57.00 87.30 56.95 87.90 56.73 89.90 55.64 90.30 55.53 90.70 55.50 91.50 55.73 93.50 56.87 94.10 57.07 94.50 57.10 95.30 56.88 96.90 55.97 97.70 55.65 98.30 55.61 100.50 55.85 102.70 55.53 103.30 55.50 104.10 55.68 105.90 56.54 106.70 56.78 107.50 56.78 109.50 56.52 110.30 56.51 111.10 56.64 112.90 57.10 113.90 57.20 114.70 57.05 116.30 56.48 117.10 56.31 119.90 56.50 123.50 56.49 124.10 56.27 125.30 55.52 125.90 55.40 126.30 55.50 126.70 55.71 128.30 56.80 128.70 56.96 129.10 57.00 130.30 56.94 131.70 56.76 132.30 56.48 133.90 55.39 134.30 55.24 134.70 55.20 135.50 55.33 137.10 55.83 138.90 56.57 139.50 56.75 140.10 56.80 141.70 56.61 142.30 56.63 142.90 56.84 144.30 57.55 144.70 57.67 145.10 57.70 146.30 57.63 147.50 57.46 148.10 57.20 149.50 56.43 149.90 56.32 150.30 56.31 151.10 56.55 152.10 57.05 152.50 57.32 155.90 60.44 156.70 61.33 157.70 62.90 159.10 65.60 161.10 70.10 162.70 73.34 163.10 73.96 163.30 74.16 163.50 74.27 163.70 74.27 163.90 74.17 164.30 73.74 165.10 72.20 165.30 71.59 165.70 69.54 166.90 60.44 167.70 52.82 169.10 42.54 170.50 29.04 171.70 19.25 172.10 16.56 172.30 15.59 172.50 14.96 172.70 14.73 172.90 14.85 173.10 15.20 173.30 15.74 173.90 18.29 176.30 31.65 179.50 50.56 180.30 55.69 181.10 61.46 182.50 74.99 183.90 85.65 184.50 89.03 184.70 89.70 184.90 90.05 185.10 90.08 185.30 89.94 185.50 89.66 185.90 88.81 186.90 85.72 187.30 84.18 188.50 77.61 188.90 76.37 189.70 74.69 190.10 74.14 190.30 73.98 190.50 73.91 190.70 73.98 191.10 74.70 191.70 76.42 192.10 77.34 192.30 77.57 192.50 77.58 192.70 77.46 192.90 77.22 193.30 76.46 194.10 74.07 194.30 73.14 194.70 70.02 196.70 49.73 197.50 43.90 199.10 35.20 199.90 31.58 200.30 30.40 200.90 28.92 201.30 28.23 201.50 28.03 201.70 27.95 202.10 28.09 202.70 28.73 203.50 29.88 204.10 31.04 204.70 32.41 205.30 33.99 207.30 40.04 208.50 44.18 209.50 48.10 211.70 58.28 214.50 70.23 215.70 75.04 216.30 77.19 217.10 79.30 217.70 80.54 217.90 80.78 218.10 80.88 218.30 80.81 218.70 80.40 219.30 79.43 219.90 77.94 221.10 74.59 224.30 67.64 226.50 62.24 227.10 60.16 227.90 56.80 229.90 45.50 230.90 40.92 231.50 38.81 232.10 37.01 232.70 35.75 233.10 35.29 233.30 35.24 233.70 35.49 234.30 36.23 234.70 36.90 235.30 38.25 237.90 45.32 239.10 48.94 241.10 54.33 242.50 58.34 243.90 62.03 244.70 63.78 246.10 66.31 246.70 67.15 247.10 67.59 247.90 68.22 249.30 69.10 249.90 69.41 250.30 69.53 251.30 69.60 252.10 69.46 253.70 68.66 254.30 68.21 255.30 67.24 256.10 66.24 258.10 63.39 259.30 61.48 260.30 59.57 261.30 57.11 262.70 52.40 264.10 48.34 265.30 44.42 265.90 42.70 266.50 41.52 267.50 40.23 267.90 39.96 268.30 39.95 268.70 40.03 270.50 40.80 271.70 41.45 272.10 41.56 273.30 41.53 274.90 41.37 276.10 41.10 276.50 41.06 277.10 41.23 278.10 41.90 279.10 42.98 279.90 44.38 280.70 46.30 281.50 49.08 282.10 51.81 283.30 57.98 285.30 70.47 286.50 76.17 287.30 79.36 287.90 81.09 288.70 82.69 289.10 83.36 289.50 83.85 289.70 84.01 289.90 84.09 290.30 84.02 290.70 83.71 291.30 82.93 292.10 81.63 292.70 80.35 293.70 77.38 294.90 72.83 295.50 70.14 296.30 65.51 297.90 55.05 299.70 42.24 301.30 32.91 301.70 31.06 302.10 29.74 302.70 28.55 303.30 27.61 303.70 27.18 304.10 26.98 304.50 27.05 304.90 27.36 305.70 28.49 306.50 30.06 307.10 32.14 310.10 46.18 312.70 59.37 315.30 73.37 316.70 82.48 317.10 84.28 317.30 84.85 317.50 85.16 317.70 85.19 317.90 85.08 318.30 84.62 318.70 83.86 319.10 82.91 319.90 80.70 320.50 78.21 324.50 56.74 326.30 45.03 327.10 40.70 327.70 38.71 328.70 36.42 329.10 35.71 329.50 35.19 329.90 34.88 330.10 34.83 330.50 34.88 330.90 35.12 331.30 35.50 331.90 36.24 333.30 38.30 334.50 40.74 336.30 45.06 338.50 50.91 340.30 55.44 340.90 57.41 342.10 62.06 343.50 66.71 343.90 67.85 344.30 68.70 344.50 68.97 344.90 69.25 345.10 69.28 345.50 69.16 345.90 68.89 346.70 67.97 347.10 67.24 348.30 64.61 348.70 63.95 349.90 62.26 351.10 60.89 352.70 59.59 353.50 58.72 355.90 55.35 358.50 52.46 359.90 50.23 360.50 49.42 360.90 49.05 361.30 48.86 363.30 48.67 365.70 48.73 366.10 48.82 366.70 49.18 367.10 49.56 367.70 50.27 369.90 53.35 372.50 56.43 373.70 57.68 376.10 59.60 377.30 60.45 378.30 60.95 379.30 61.17 379.90 61.14 380.50 61.00 381.10 60.76 381.90 60.34 384.90 58.44 386.90 56.83 387.70 56.38 390.30 55.94 392.50 55.23 393.50 55.05 394.10 55.08 394.70 55.24 395.70 55.66 397.90 56.77 398.70 57.01 399.30 57.08 400.90 56.81 403.70 55.81 404.90 55.53 405.90 55.52 408.90 55.80 409.90 55.76 412.10 55.52 413.10 55.53 413.70 55.70 414.50 56.10 417.70 58.31 418.50 58.67 419.30 58.80 420.30 58.65 421.50 58.14 422.50 57.54 425.10 55.73 426.30 55.06 426.90 54.81 427.50 54.66 428.50 54.62 429.70 54.92 430.90 55.50 432.10 56.27 435.10 58.44 436.50 59.27 437.70 59.74 438.30 59.87 438.90 59.90 440.10 59.73 441.50 59.23 443.10 58.37 446.50 56.17 447.90 55.36 449.30 54.75 450.10 54.52 450.70 54.43 451.70 54.42 452.70 54.60 453.90 54.98 457.30 56.29 458.30 56.52 459.30 56.60 460.10 56.47 460.90 56.17 463.50 54.73 464.50 54.26 465.50 54.02 466.50 54.05 468.10 54.45 471.70 55.80 475.70 57.77 476.90 58.28 478.10 58.65 479.30 58.80 480.30 58.70 481.50 58.32 482.50 57.84 485.30 56.31 486.50 55.79 487.70 55.52 488.70 55.53 489.70 55.73 490.90 56.14 494.70 57.97 496.10 58.55 497.30 58.89 498.50 59.00 499.10 58.89 499.90 58.55 500.90 57.88 503.50 55.88 504.10 55.55 506.70 54.40 507.90 53.98 508.90 53.75 510.90 53.56 512.50 53.50 514.70 53.59 516.70 53.83 518.10 54.26 520.30 55.20 521.10 55.62 522.10 56.32 525.30 59.09 526.70 60.15 527.50 60.60 528.10 60.84 528.70 60.97 529.30 60.99 530.10 60.87 531.10 60.52 531.90 60.09 532.90 59.40 534.70 57.86 538.90 53.76 539.90 52.89 540.90 52.14 541.70 51.64 542.50 51.26 543.30 51.00 544.10 50.90 544.70 50.95 545.50 51.22 546.10 51.56 546.90 52.17 547.70 52.94 548.70 54.05 552.10 58.37 553.70 60.17 554.50 60.90 555.30 61.46 556.10 61.84 556.90 62.00 557.50 61.95 558.30 61.71 558.90 61.40 559.70 60.84 561.30 59.35 564.70 55.49 566.30 53.88 567.10 53.24 567.90 52.74 568.70 52.41 569.50 52.30 570.30 52.43 571.10 52.79 574.50 55.14 577.70 56.66 579.30 57.31 582.90 58.63 584.10 58.96 585.10 59.09 588.50 58.98 590.90 58.76 591.90 58.60 592.50 58.38 593.30 57.95 596.10 56.02 597.30 55.38 600.10 54.38 601.90 53.84 603.50 53.51 604.90 53.40 605.90 53.45 607.10 53.64 610.30 54.50 611.70 55.06 614.50 56.57 615.90 57.17 620.50 58.56 622.10 58.89 623.50 59.07 624.90 59.07 625.50 58.97 626.30 58.73 627.50 58.23 630.70 56.66 634.10 55.34 635.70 54.80 639.90 53.71 641.30 53.47 642.50 53.40 643.10 53.45 643.70 53.57 645.10 54.13 648.50 56.09 650.30 57.03 653.70 59.10 654.90 59.63 655.90 59.87 656.50 59.90 657.10 59.82 657.70 59.65 658.50 59.31 662.50 56.95 665.10 55.05 666.10 54.40 667.10 53.95 667.90 53.80 668.70 53.87 669.70 54.15 670.70 54.60 672.90 55.79 673.90 56.26 680.50 58.70" fill="none" stroke="#ff73eb" stroke-width="1.45" stroke-linejoin="round" stroke-linecap="round"/>
<path d="M49.5 56.50L57.90 56.54 60.30 56.61 64.10 56.85 66.10 56.90 66.70 56.70 68.30 55.71 68.90 55.60 69.70 55.83 71.50 56.81 71.90 56.95 72.30 57.00 72.70 56.96 73.30 56.80 75.70 55.73 76.50 55.60 76.90 55.65 77.50 55.87 79.50 56.96 79.90 57.07 80.30 57.10 81.10 56.87 83.10 55.75 83.50 55.63 83.90 55.60 84.30 55.70 84.70 55.89 86.30 56.86 86.90 57.00 87.30 56.95 87.90 56.73 89.90 55.64 90.30 55.53 90.70 55.50 91.50 55.73 93.50 56.87 94.10 57.07 94.50 57.10 95.30 56.88 96.90 55.97 97.70 55.65 98.30 55.61 100.50 55.85 102.70 55.53 103.30 55.50 104.10 55.68 105.90 56.54 106.70 56.78 107.50 56.78 109.50 56.52 110.30 56.51 111.10 56.64 112.90 57.10 113.90 57.20 114.70 57.05 116.30 56.48 117.10 56.31 119.90 56.50 123.50 56.49 124.10 56.27 125.30 55.52 125.90 55.40 126.30 55.50 126.70 55.71 128.30 56.80 128.70 56.96 129.10 57.00 130.30 56.94 131.70 56.76 132.30 56.48 133.90 55.39 134.30 55.24 134.70 55.20 135.50 55.33 137.10 55.83 138.90 56.57 139.50 56.75 140.10 56.80 141.70 56.61 142.30 56.63 142.90 56.84 144.30 57.55 144.70 57.67 145.10 57.70 146.30 57.63 147.50 57.46 148.10 57.20 149.50 56.43 149.90 56.32 150.30 56.31 151.10 56.55 152.10 57.05 152.50 57.32 155.90 60.44 156.70 61.33 157.70 62.90 159.10 65.60 161.10 70.11 162.70 73.28 163.10 73.89 163.30 74.08 163.50 74.19 163.70 74.19 163.90 74.10 164.30 73.68 165.10 72.20 165.30 71.60 165.70 69.55 166.70 62.10 167.70 53.00 169.10 43.21 170.50 30.39 171.70 20.74 172.10 18.04 172.30 17.06 172.50 16.43 172.70 16.20 172.90 16.32 173.10 16.66 173.30 17.19 173.90 19.69 175.10 26.45 176.90 35.82 179.70 51.55 180.50 56.53 181.10 60.76 182.70 75.66 183.90 84.80 184.50 88.36 184.70 89.07 184.90 89.45 185.10 89.48 185.30 89.34 185.70 88.71 186.50 86.55 187.30 83.87 188.50 77.93 188.90 76.78 189.70 75.20 190.10 74.69 190.30 74.55 190.50 74.50 190.70 74.61 191.10 75.33 191.90 77.40 192.10 77.77 192.30 77.97 192.50 77.98 192.70 77.86 192.90 77.61 193.30 76.82 194.10 74.36 194.30 73.56 194.70 70.59 195.50 61.99 196.50 52.21 196.90 48.74 197.50 44.74 199.10 36.39 199.90 32.87 200.30 31.77 200.90 30.48 201.30 29.83 201.70 29.51 201.90 29.51 202.10 29.59 202.50 29.95 203.50 31.28 204.10 32.36 204.90 34.03 205.70 35.95 206.90 39.10 207.90 41.97 209.10 45.99 210.50 51.40 211.90 57.80 213.50 64.43 215.10 71.59 216.30 76.45 216.70 77.73 217.50 79.79 217.90 80.51 218.10 80.68 218.30 80.69 218.70 80.55 219.10 80.25 219.90 79.36 220.30 78.44 220.90 76.74 221.30 75.85 224.90 69.05 225.90 66.93 226.50 65.41 226.90 63.93 227.90 59.05 229.70 48.51 230.90 42.69 231.50 40.41 232.10 38.50 232.90 36.58 233.10 36.23 233.30 36.03 233.50 36.01 233.70 36.09 234.10 36.43 234.90 37.44 237.70 43.09 238.30 44.63 239.50 48.23 242.50 56.13 244.10 60.79 244.90 62.72 245.70 64.42 246.30 65.50 247.10 66.70 249.90 70.25 250.30 70.64 251.10 71.21 251.50 71.44 251.90 71.58 252.70 71.54 253.70 71.26 254.30 70.87 255.10 70.10 255.70 69.34 256.30 68.41 258.10 65.46 259.10 63.64 259.90 61.91 260.90 59.24 261.70 56.77 262.70 53.18 264.30 48.51 265.90 43.54 266.50 42.17 267.50 40.60 267.90 40.25 268.30 40.20 269.10 40.29 271.10 40.69 271.90 40.79 276.10 40.80 276.70 41.00 277.70 41.74 278.30 42.29 278.70 42.75 279.50 43.97 280.50 46.00 281.10 47.77 281.90 51.06 283.10 56.90 285.30 70.46 286.90 77.95 287.70 80.75 288.70 82.98 289.10 83.70 289.50 84.23 289.90 84.49 290.30 84.41 290.70 84.07 291.10 83.54 292.10 81.82 292.50 80.98 293.50 78.13 294.70 73.66 295.50 70.12 296.10 66.73 297.90 55.12 299.70 42.90 301.30 34.21 301.90 31.79 302.30 30.79 302.90 29.63 303.30 28.99 303.70 28.53 304.10 28.31 304.50 28.38 304.90 28.70 305.30 29.22 305.90 30.24 306.30 31.00 306.70 32.00 307.30 34.20 310.30 47.50 312.50 58.11 315.30 73.12 316.50 81.09 316.90 83.25 317.30 84.65 317.50 84.96 317.70 84.99 317.90 84.89 318.30 84.45 318.90 83.30 319.90 80.71 320.30 79.22 322.50 67.90 324.70 56.10 326.50 45.07 326.90 42.92 327.30 41.19 327.70 40.00 328.90 37.65 329.30 37.07 329.70 36.66 330.10 36.43 330.30 36.40 330.90 36.59 331.50 37.10 332.10 37.81 333.30 39.42 334.30 41.26 336.50 46.10 339.70 53.65 340.50 55.71 341.10 57.71 342.30 62.36 344.10 68.07 344.50 68.94 344.70 69.24 344.90 69.43 345.10 69.50 345.50 69.36 346.10 68.72 346.70 67.73 347.90 65.49 348.50 64.61 349.50 63.69 351.70 62.06 352.70 61.05 353.50 59.87 355.10 57.13 355.70 56.21 356.50 55.28 358.30 53.59 358.90 52.74 360.30 50.42 360.90 49.67 361.30 49.37 361.90 49.22 363.70 48.93 365.30 48.81 365.90 48.80 366.30 48.88 366.70 49.10 367.10 49.44 367.90 50.39 369.50 52.71 370.10 53.48 372.70 56.28 374.10 57.62 376.70 59.65 377.70 60.33 378.70 60.82 379.30 60.97 379.70 61.00 380.30 60.94 380.90 60.79 382.30 60.14 384.90 58.58 386.70 57.08 387.50 56.60 388.10 56.50 389.50 56.60 390.10 56.48 390.90 56.12 392.70 55.08 393.30 54.86 393.70 54.80 394.30 54.85 395.10 55.08 398.10 56.63 398.90 56.91 399.50 57.00 400.10 56.97 400.90 56.81 403.70 55.81 404.90 55.53 405.90 55.52 408.90 55.80 409.90 55.76 412.10 55.52 413.10 55.53 413.70 55.70 414.50 56.10 417.70 58.31 418.50 58.67 419.30 58.80 420.30 58.65 421.50 58.14 422.50 57.54 425.10 55.73 426.30 55.06 426.90 54.81 427.50 54.66 428.50 54.62 429.70 54.92 430.90 55.50 432.10 56.27 435.10 58.44 436.50 59.27 437.70 59.74 438.30 59.87 438.90 59.90 440.10 59.73 441.50 59.23 443.10 58.37 446.50 56.17 447.90 55.36 449.30 54.75 450.10 54.52 450.70 54.43 451.70 54.42 452.70 54.60 453.90 54.98 457.30 56.29 458.30 56.52 459.30 56.60 460.10 56.47 460.90 56.17 463.50 54.73 464.50 54.26 465.50 54.02 466.50 54.05 468.10 54.45 471.70 55.80 475.70 57.77 476.90 58.28 478.10 58.65 479.30 58.80 480.30 58.70 481.50 58.32 482.50 57.84 485.30 56.31 486.50 55.79 487.70 55.52 488.70 55.53 489.70 55.73 490.90 56.14 494.70 57.97 496.10 58.55 497.30 58.89 498.50 59.00 499.10 58.89 499.90 58.55 500.90 57.88 503.50 55.88 504.10 55.55 506.70 54.40 507.90 53.98 508.90 53.75 510.90 53.56 512.50 53.50 514.70 53.59 516.70 53.83 518.10 54.26 520.30 55.20 521.10 55.62 522.10 56.32 525.30 59.09 526.70 60.15 527.50 60.60 528.10 60.84 528.70 60.97 529.30 60.99 530.10 60.87 531.10 60.52 531.90 60.09 532.90 59.40 534.70 57.86 538.90 53.76 539.90 52.89 540.90 52.14 541.70 51.64 542.50 51.26 543.30 51.00 544.10 50.90 544.70 50.95 545.50 51.22 546.10 51.56 546.90 52.17 547.70 52.94 548.70 54.05 552.10 58.37 553.70 60.17 554.50 60.90 555.30 61.46 556.10 61.84 556.90 62.00 557.50 61.95 558.30 61.71 558.90 61.40 559.70 60.84 561.30 59.35 564.70 55.49 566.30 53.88 567.10 53.24 567.90 52.74 568.70 52.41 569.50 52.30 570.30 52.43 571.10 52.79 574.50 55.14 577.70 56.66 579.30 57.31 582.90 58.63 584.10 58.96 585.10 59.09 588.50 58.98 590.90 58.76 591.90 58.60 592.50 58.38 593.30 57.95 596.10 56.02 597.30 55.38 600.10 54.38 601.90 53.84 603.50 53.51 604.90 53.40 605.90 53.45 607.10 53.64 610.30 54.50 611.70 55.06 614.50 56.57 615.90 57.17 620.50 58.56 622.10 58.89 623.50 59.07 624.90 59.07 625.50 58.97 626.30 58.73 627.50 58.23 630.70 56.66 634.10 55.34 635.70 54.80 639.90 53.71 641.30 53.47 642.50 53.40 643.10 53.45 643.70 53.57 645.10 54.13 648.50 56.09 650.30 57.03 653.70 59.10 654.90 59.63 655.90 59.87 656.50 59.90 657.10 59.82 657.70 59.65 658.50 59.31 662.50 56.95 665.10 55.05 666.10 54.40 667.10 53.95 667.90 53.80 668.70 53.87 669.70 54.15 670.70 54.60 672.90 55.79 673.90 56.26 680.50 58.70" fill="none" stroke="#7633ab" stroke-width="1.45" stroke-linejoin="round" stroke-linecap="round"/>
<text transform="translate(49.50 78.0) scale(1.05 1.06)" class="tk" text-anchor="middle">0</text>
<text transform="translate(207.25 78.0) scale(1.05 1.06)" class="tk" text-anchor="middle">1</text>
<text transform="translate(365.00 78.0) scale(1.05 1.06)" class="tk" text-anchor="middle">2</text>
<text transform="translate(522.75 78.0) scale(1.05 1.06)" class="tk" text-anchor="middle">3</text>
<text transform="translate(680.50 78.0) scale(1.05 1.06)" class="tk" text-anchor="middle">4</text>
<text transform="translate(37.6 8.9) scale(1.05 1.06)" class="tk" text-anchor="end">3</text>
<text transform="translate(37.6 60.9) scale(1.05 1.06)" class="tk" text-anchor="end">0</text>
<text transform="translate(37.6 112.9) scale(1.05 1.06)" class="tk" text-anchor="end">-3</text>
<path d="M242.0 19.80 h27.2" stroke="#ff2020" stroke-width="1.70"/>
<text transform="translate(270.80 24.0) scale(1.000 1.11)" class="lg">SRC</text>
<path d="M307.0 19.80 h27.2" stroke="#262626" stroke-width="1.70"/>
<text transform="translate(335.80 24.0) scale(1.010 1.11)" class="lg">LRC</text>
<path d="M372.5 19.80 h27.2" stroke="#45b44b" stroke-width="1.70"/>
<text transform="translate(401.20 24.0) scale(1.090 1.11)" class="lg">CC</text>
<path d="M431.3 19.80 h27.2" stroke="#2a7fc8" stroke-width="1.70"/>
<text transform="translate(460.30 24.0) scale(1.000 1.11)" class="lg">B</text>
<path d="M480.0 19.80 h27.2" stroke="#ffc21f" stroke-width="1.70"/>
<text transform="translate(508.80 24.0) scale(0.965 1.11)" class="lg">SLB1</text>
<path d="M549.0 19.80 h27.2" stroke="#ff73eb" stroke-width="1.70"/>
<text transform="translate(577.30 24.0) scale(0.995 1.11)" class="lg">SLB2</text>
<path d="M618.2 19.80 h27.2" stroke="#7633ab" stroke-width="1.70"/>
<text transform="translate(646.30 24.0) scale(0.995 1.11)" class="lg">SLB3</text>
<text x="329" y="95.0" class="ttl">Time [s]</text>
<text transform="translate(12.2 81.6) rotate(-90)" class="ttl"><tspan font-style="italic">a</tspan> [m/s<tspan font-size="7.5" dy="-5.6">2</tspan><tspan dy="5.6">]</tspan></text>
<path d="M49.0 172.50 H681.0 M49.0 277.50 H681.0" stroke="#626262" stroke-width="1.00"/>
<path d="M49.4 172.0 V278.0" stroke="#929292" stroke-width="1.2"/>
<path d="M680.5 172.0 V278.0" stroke="#747474" stroke-width="1"/>
<path d="M44 172.50 H49.5" stroke="#626262" stroke-width="1.00"/>
<path d="M44 277.50 H49.5" stroke="#626262" stroke-width="1.00"/>
<path d="M44 225.5 H49.5" stroke="#8c8c8c" stroke-width="1"/>
<path d="M49.5 225.5 H680.5" stroke="#a4a4a4" stroke-width="1"/>
<path d="M49.50 226.0 V229.8" stroke="#a4a4a4" stroke-width="1"/>
<path d="M207.25 226.0 V229.8" stroke="#a4a4a4" stroke-width="1"/>
<path d="M365.00 226.0 V229.8" stroke="#a4a4a4" stroke-width="1"/>
<path d="M522.75 226.0 V229.8" stroke="#a4a4a4" stroke-width="1"/>
<path d="M680.50 226.0 V229.8" stroke="#a4a4a4" stroke-width="1"/>
<path d="M49.5 225.00L52.90 225.22 56.10 225.80 57.50 225.90 58.70 225.74 61.90 225.01 65.70 224.58 68.10 224.51 70.70 224.75 73.30 225.58 74.30 225.70 74.70 225.63 75.30 225.38 77.50 224.02 78.10 223.83 78.50 223.81 78.90 223.93 79.30 224.18 80.90 225.59 81.30 225.81 81.70 225.90 82.50 225.74 84.10 225.00 84.90 224.80 85.30 224.84 85.70 224.97 87.30 225.81 87.70 225.90 88.10 225.86 88.70 225.61 90.30 224.54 90.70 224.36 91.10 224.30 91.90 224.48 93.50 225.28 94.30 225.50 94.70 225.48 95.30 225.36 97.30 224.57 98.10 224.35 98.70 224.30 99.70 224.38 100.90 224.61 102.90 225.71 103.30 225.85 103.70 225.90 104.50 225.85 106.70 225.52 110.30 225.36 111.10 225.12 112.90 224.36 113.50 224.22 113.90 224.20 114.90 224.41 116.90 225.20 118.30 225.51 120.70 225.92 122.50 226.00 124.50 225.90 126.30 225.73 128.90 225.12 132.50 224.66 135.10 223.91 136.10 223.72 137.10 223.76 139.50 224.48 140.10 224.58 140.70 224.57 141.50 224.26 143.30 223.19 143.90 223.01 144.30 223.01 145.10 223.26 146.90 224.17 148.70 224.59 149.30 224.80 149.90 225.30 150.50 226.15 152.10 228.87 155.50 235.14 157.30 238.07 157.90 238.82 158.10 238.95 158.50 238.97 158.90 238.75 159.30 238.34 159.70 237.78 160.50 236.42 160.90 235.51 161.50 233.29 162.90 226.68 163.90 221.23 165.70 208.52 167.30 198.85 168.10 194.82 168.50 193.57 168.70 193.38 168.90 193.63 169.30 195.27 170.50 203.02 172.10 211.64 172.30 212.44 172.70 213.58 173.10 214.37 174.10 215.96 174.50 216.80 175.10 218.75 175.70 221.42 176.90 227.52 179.70 243.17 180.10 244.94 180.30 245.53 180.50 245.91 180.70 246.09 180.90 246.05 181.10 245.85 181.70 244.80 183.50 240.45 185.70 235.37 186.70 233.30 188.30 230.32 189.10 228.69 190.10 226.27 192.30 220.54 193.10 218.76 193.90 217.32 195.10 215.68 195.90 214.84 196.30 214.57 196.70 214.43 196.90 214.44 197.10 214.53 197.30 214.73 197.70 215.38 199.10 218.67 199.90 220.27 200.90 222.53 201.30 223.30 201.70 223.87 202.10 224.17 202.30 224.20 202.70 224.05 203.30 223.55 204.50 222.30 205.10 221.94 205.50 221.92 205.70 221.99 206.10 222.25 206.70 222.95 207.30 223.89 209.30 227.41 210.90 230.58 211.50 231.62 212.90 233.72 213.30 234.12 213.70 234.26 213.90 234.24 214.30 234.04 214.90 233.46 216.90 230.81 217.90 229.37 219.70 226.35 221.70 221.78 223.10 219.71 223.70 219.01 224.30 218.50 225.10 218.15 226.30 217.85 227.30 217.76 228.30 217.84 228.90 218.15 229.70 218.88 231.30 220.89 231.90 222.10 232.90 224.47 233.50 225.60 234.70 227.15 235.30 227.69 235.50 227.79 235.90 227.88 236.50 227.75 237.30 227.27 238.90 226.03 241.10 224.67 242.10 224.26 242.50 224.20 242.90 224.23 243.50 224.49 244.30 225.12 246.70 227.56 248.70 229.79 250.30 231.19 251.30 231.90 251.70 232.06 252.10 232.11 252.50 231.92 252.90 231.46 253.70 229.99 255.50 225.92 257.50 220.47 259.50 216.26 260.10 215.18 260.50 214.61 261.10 214.06 261.50 213.97 261.70 214.04 262.10 214.49 262.70 215.77 264.50 220.83 265.70 224.75 266.30 226.45 267.90 229.46 268.50 230.25 268.90 230.56 269.30 230.63 269.50 230.56 270.10 230.03 272.10 226.99 274.10 223.39 274.50 222.85 275.50 221.77 275.90 221.41 276.30 221.16 276.50 221.09 276.90 221.09 277.50 221.36 278.10 221.87 279.50 223.42 280.10 223.99 282.90 225.96 285.90 227.69 286.50 227.91 287.10 228.00 287.30 227.97 287.70 227.76 288.30 227.16 292.10 222.13 292.70 221.64 293.10 221.54 293.30 221.57 293.70 221.77 294.10 222.12 294.50 222.60 296.70 225.74 298.50 228.61 300.50 231.20 301.30 232.00 301.70 232.24 302.10 232.33 302.70 232.15 303.30 231.67 303.90 230.98 305.10 229.41 305.90 228.12 307.50 224.96 308.10 224.06 308.70 223.40 310.30 221.98 312.90 219.94 315.50 218.00 316.10 217.64 316.70 217.50 317.10 217.66 317.50 218.08 318.10 219.03 319.10 220.89 319.70 222.38 320.50 224.66 322.50 231.45 323.70 234.67 324.30 236.12 324.70 236.86 325.10 237.32 325.30 237.42 325.50 237.43 325.70 237.36 326.10 237.04 326.70 236.20 327.50 234.61 328.50 232.21 329.10 229.99 330.30 224.84 331.70 219.73 332.50 217.30 332.90 216.47 333.30 215.82 334.30 214.37 334.90 213.80 335.30 213.62 335.50 213.59 335.70 213.60 336.10 213.75 336.70 214.25 338.50 216.53 339.10 217.54 340.50 220.26 342.30 223.37 343.10 224.61 343.90 225.62 345.10 226.78 346.10 227.54 347.10 228.05 348.30 228.51 349.50 228.76 350.10 228.78 350.70 228.71 351.90 228.43 354.10 227.75 356.30 226.88 357.10 226.64 357.90 226.54 360.30 226.60 360.90 226.54 361.50 226.24 363.10 224.85 365.30 223.35 366.10 222.93 366.90 222.71 367.30 222.71 367.70 222.80 368.70 223.33 371.10 225.15 372.50 226.44 373.10 226.87 373.70 227.05 374.70 226.92 375.70 226.62 378.10 225.71 379.50 225.02 381.30 223.98 382.30 223.12 384.10 221.08 384.90 220.28 385.70 219.72 386.10 219.56 386.50 219.52 387.10 219.72 387.90 220.42 389.50 222.46 390.90 224.06 393.30 227.03 394.90 228.74 397.70 231.25 399.10 232.33 400.30 232.99 400.90 233.18 401.50 233.26 401.90 233.23 402.30 233.07 403.10 232.47 404.10 231.35 405.50 229.53 406.50 227.71 408.30 223.99 409.70 220.86 410.50 219.44 411.50 218.32 412.30 217.59 412.90 217.23 413.50 217.10 414.30 217.21 415.30 217.63 416.50 218.38 417.70 219.28 418.30 219.94 418.90 220.73 423.10 226.78 424.30 228.31 426.50 230.68 427.50 231.63 428.50 232.32 429.10 232.56 429.50 232.62 429.90 232.58 430.50 232.21 431.10 231.56 431.70 230.68 434.30 226.07 436.10 222.14 436.90 220.77 437.90 219.75 438.50 219.25 439.10 218.91 439.50 218.82 439.90 218.85 440.30 218.98 441.10 219.47 443.70 221.69 446.70 224.52 448.90 226.01 450.30 226.75 451.10 227.04 452.50 227.34 458.30 228.14 460.90 228.69 461.90 228.80 462.90 228.73 463.90 228.50 464.90 228.14 466.50 227.45 466.90 227.16 467.30 226.75 468.90 224.66 469.70 223.89 471.50 222.62 472.50 222.01 473.50 221.58 474.50 221.40 475.10 221.44 475.90 221.63 476.70 221.95 477.50 222.36 479.90 223.74 482.30 225.66 483.30 226.28 485.50 226.96 486.50 227.15 487.30 227.20 488.10 227.13 488.90 226.93 489.90 226.54 491.10 225.94 491.70 225.38 493.10 223.67 494.70 222.41 495.50 221.88 496.10 221.59 496.70 221.42 497.30 221.44 497.90 221.72 498.50 222.20 500.10 223.85 501.30 224.91 503.90 227.46 504.90 228.14 505.50 228.36 505.90 228.40 506.30 228.35 506.70 228.21 507.50 227.73 510.90 224.67 513.30 222.19 514.10 221.62 514.50 221.46 514.90 221.40 515.50 221.48 516.30 221.82 519.10 223.73 523.50 226.04 527.70 227.94 528.90 228.29 529.90 228.40 530.90 228.23 531.90 227.79 535.30 225.71 537.50 224.21 538.50 223.66 540.70 222.92 541.50 222.75 542.10 222.70 544.50 222.80 547.30 223.13 548.30 223.44 550.90 224.60 554.30 225.56 556.30 225.93 560.10 226.31 562.90 226.97 564.10 227.10 564.70 227.05 565.50 226.86 567.70 226.05 572.10 224.70 573.50 224.39 574.70 224.30 576.30 224.42 579.70 225.01 582.10 225.32 584.30 225.50 585.50 225.46 586.90 225.32 589.30 225.01 592.50 224.44 593.90 224.31 596.30 224.34 602.70 224.61 604.30 224.71 605.10 224.83 608.10 225.65 609.30 225.87 617.10 225.92 620.70 226.32 622.90 226.65 623.90 226.70 624.50 226.63 625.30 226.42 627.70 225.42 628.50 225.15 632.30 224.43 636.50 223.09 637.50 222.88 638.30 222.80 639.90 222.91 641.70 223.30 645.70 224.48 648.50 225.50 649.70 225.84 652.70 226.36 654.90 226.58 656.10 226.59 657.30 226.39 660.70 225.29 665.50 223.91 666.90 223.59 668.30 223.41 669.50 223.42 670.70 223.53 674.10 224.05 680.50 224.90" fill="none" stroke="#ff2020" stroke-width="1.45" stroke-linejoin="round" stroke-linecap="round"/>
<path d="M49.5 225.00L52.90 225.22 56.10 225.80 57.50 225.90 58.70 225.74 61.90 225.01 65.70 224.58 68.10 224.51 70.70 224.75 73.30 225.58 74.30 225.70 74.70 225.63 75.30 225.38 77.50 224.02 78.10 223.83 78.50 223.81 78.90 223.93 79.30 224.18 80.90 225.59 81.30 225.81 81.70 225.90 82.50 225.74 84.10 225.00 84.90 224.80 85.30 224.84 85.70 224.97 87.30 225.81 87.70 225.90 88.10 225.86 88.70 225.61 90.30 224.54 90.70 224.36 91.10 224.30 91.90 224.48 93.50 225.28 94.30 225.50 94.70 225.48 95.30 225.36 97.30 224.57 98.10 224.35 98.70 224.30 99.70 224.38 100.90 224.61 102.90 225.71 103.30 225.85 103.70 225.90 104.50 225.85 106.70 225.52 110.30 225.36 111.10 225.12 112.90 224.36 113.50 224.22 113.90 224.20 114.90 224.41 116.90 225.20 118.30 225.51 120.70 225.92 122.50 226.00 124.50 225.90 126.30 225.73 128.90 225.12 132.50 224.66 135.10 223.91 136.10 223.72 137.10 223.76 139.50 224.48 140.10 224.58 140.70 224.57 141.50 224.26 143.30 223.19 143.90 223.01 144.30 223.01 145.10 223.26 146.90 224.17 148.70 224.59 149.30 224.80 149.90 225.30 150.50 226.15 152.10 228.87 155.50 235.14 157.30 238.07 157.90 238.82 158.10 238.95 158.50 238.97 158.90 238.75 159.50 238.08 160.70 236.07 161.30 234.19 161.90 231.50 163.10 225.59 163.90 220.91 164.30 218.11 165.70 206.82 167.10 197.53 168.30 190.77 168.50 190.08 168.70 189.82 168.90 190.10 169.10 190.83 169.90 195.73 170.90 203.15 171.90 211.33 172.30 213.95 172.50 214.88 172.90 216.20 174.10 218.93 174.50 220.00 175.50 223.69 176.50 228.26 177.10 231.35 179.70 246.46 180.10 248.05 180.30 248.41 180.50 248.50 180.70 248.41 180.90 248.17 181.30 247.33 184.90 237.23 186.10 234.36 189.50 226.83 190.30 224.80 192.10 219.75 192.70 218.33 193.90 216.26 195.10 214.62 195.70 213.99 196.10 213.68 196.50 213.49 196.90 213.43 197.10 213.50 197.30 213.68 197.90 214.68 199.90 219.51 201.30 223.42 201.90 224.60 202.30 224.96 202.50 224.98 202.90 224.84 203.50 224.38 204.70 223.27 205.30 222.94 205.70 222.92 205.90 222.98 206.30 223.23 206.70 223.65 207.30 224.50 209.10 227.53 210.90 231.28 211.50 232.37 212.90 234.49 213.30 234.88 213.70 235.03 214.10 234.88 214.70 234.21 217.10 229.96 219.70 224.77 221.10 221.52 221.70 220.33 222.70 218.98 223.50 218.08 224.30 217.44 224.90 217.22 226.30 217.16 227.90 217.40 228.50 217.63 229.30 218.29 230.10 219.23 231.30 220.91 231.90 222.13 233.10 224.97 233.50 225.74 234.90 227.94 235.30 228.41 235.70 228.72 235.90 228.79 236.30 228.78 236.90 228.45 238.90 226.43 241.30 224.54 242.10 224.15 242.50 224.08 242.90 224.11 243.50 224.38 244.30 225.02 246.70 227.55 248.70 229.92 250.30 231.41 251.30 232.15 251.70 232.31 252.10 232.34 252.50 232.12 252.90 231.64 253.30 230.94 253.90 229.63 255.50 225.79 257.70 219.23 259.70 214.62 260.30 213.52 260.70 213.00 261.10 212.69 261.30 212.64 261.50 212.68 261.70 212.82 262.10 213.41 262.70 214.89 264.50 220.52 265.90 225.60 266.50 227.41 268.10 231.13 268.70 232.06 269.10 232.36 269.30 232.39 269.50 232.33 269.70 232.17 270.10 231.61 273.30 225.09 274.10 223.61 274.50 223.02 275.50 221.81 275.90 221.41 276.30 221.13 276.50 221.05 276.90 221.05 277.50 221.32 278.10 221.83 279.50 223.37 280.10 223.95 282.90 225.95 285.90 227.69 286.50 227.91 287.10 228.00 287.50 227.88 288.10 227.35 290.50 223.97 291.90 221.81 292.50 221.16 292.90 220.93 293.10 220.90 293.30 220.93 293.70 221.15 294.10 221.55 294.50 222.08 296.70 225.61 298.70 229.19 300.50 231.78 301.30 232.68 301.70 232.95 302.10 233.05 302.50 232.96 302.90 232.69 303.50 232.06 304.10 231.24 305.50 229.14 307.70 224.62 308.10 224.02 308.90 223.09 310.30 221.78 312.50 220.04 314.30 218.81 315.70 217.75 316.30 217.44 316.70 217.38 317.10 217.54 317.50 217.99 318.10 218.98 319.10 220.94 319.70 222.52 320.50 224.99 322.50 231.85 323.90 235.84 324.30 236.85 324.70 237.65 325.10 238.15 325.30 238.26 325.50 238.27 325.70 238.20 326.10 237.86 326.70 236.98 327.50 235.30 328.50 232.76 329.10 230.39 330.30 224.89 331.70 219.42 332.50 216.79 332.90 215.87 334.10 213.78 334.70 213.06 335.10 212.79 335.30 212.74 335.50 212.75 335.90 212.90 336.50 213.42 337.10 214.20 338.30 216.10 338.90 217.35 340.50 221.66 342.10 224.86 343.10 226.57 343.70 227.32 344.10 227.67 345.10 228.21 346.10 228.60 347.10 228.81 348.10 228.86 349.30 228.78 350.50 228.55 351.70 228.17 353.90 227.28 356.30 226.04 357.30 225.70 358.10 225.66 360.30 225.89 361.10 225.87 361.70 225.56 363.10 224.39 364.90 223.39 366.10 222.87 367.10 222.70 367.70 222.85 368.50 223.42 370.30 225.36 372.90 227.92 373.50 228.23 373.90 228.24 374.30 228.16 374.90 227.94 375.70 227.49 377.70 226.23 379.10 225.17 381.70 222.92 384.10 219.93 384.90 219.06 385.70 218.47 386.10 218.32 386.50 218.28 387.10 218.54 387.90 219.36 393.30 227.10 394.10 228.16 394.90 229.08 397.50 231.65 398.90 232.88 399.70 233.42 400.30 233.73 400.90 233.94 401.50 234.02 401.90 233.99 402.30 233.82 403.10 233.19 403.90 232.27 405.30 230.36 405.90 229.28 406.50 227.97 408.50 223.19 409.70 220.07 410.30 218.77 411.10 217.65 412.10 216.54 412.70 216.10 413.30 215.94 414.10 216.06 415.10 216.50 416.50 217.47 417.70 218.50 418.30 219.26 418.90 220.17 423.10 227.17 424.10 228.65 426.30 231.11 427.50 232.26 428.50 232.94 429.10 233.16 429.50 233.22 429.90 233.18 430.50 232.81 430.90 232.40 431.50 231.57 432.30 230.20 434.30 226.39 434.90 225.01 436.30 221.39 436.90 220.19 437.90 218.86 438.50 218.18 439.10 217.71 439.50 217.58 439.90 217.61 440.30 217.74 440.70 217.97 441.30 218.44 443.70 220.74 445.90 223.36 446.70 224.22 448.50 225.60 450.10 226.57 451.50 227.12 453.70 227.64 460.70 228.70 461.70 228.79 462.70 228.75 463.70 228.52 464.70 228.15 466.50 227.33 466.90 227.04 467.30 226.64 468.90 224.61 469.50 224.01 471.50 222.62 472.50 222.01 473.50 221.58 474.50 221.40 475.10 221.44 475.90 221.63 476.70 221.95 477.50 222.36 479.90 223.74 482.30 225.66 483.30 226.28 485.50 226.96 486.50 227.15 487.30 227.20 488.10 227.13 488.90 226.93 489.90 226.54 491.10 225.94 491.70 225.38 493.10 223.67 494.70 222.41 495.50 221.88 496.10 221.59 496.70 221.42 497.30 221.44 497.90 221.72 498.50 222.20 500.10 223.85 501.30 224.91 503.90 227.46 504.90 228.14 505.50 228.36 505.90 228.40 506.30 228.35 506.70 228.21 507.50 227.73 510.90 224.67 513.30 222.19 514.10 221.62 514.50 221.46 514.90 221.40 515.50 221.48 516.30 221.82 519.10 223.73 523.50 226.04 527.70 227.94 528.90 228.29 529.90 228.40 530.90 228.23 531.90 227.79 535.30 225.71 537.50 224.21 538.50 223.66 540.70 222.92 541.50 222.75 542.10 222.70 544.50 222.80 547.30 223.13 548.30 223.44 550.90 224.60 554.30 225.56 556.30 225.93 560.10 226.31 562.90 226.97 564.10 227.10 564.70 227.05 565.50 226.86 567.70 226.05 572.10 224.70 573.50 224.39 574.70 224.30 576.30 224.42 579.70 225.01 582.10 225.32 584.30 225.50 585.50 225.46 586.90 225.32 589.30 225.01 592.50 224.44 593.90 224.31 596.30 224.34 602.70 224.61 604.30 224.71 605.10 224.83 608.10 225.65 609.30 225.87 617.10 225.92 620.70 226.32 622.90 226.65 623.90 226.70 624.50 226.63 625.30 226.42 627.70 225.42 628.50 225.15 632.30 224.43 636.50 223.09 637.50 222.88 638.30 222.80 639.90 222.91 641.70 223.30 645.70 224.48 648.50 225.50 649.70 225.84 652.70 226.36 654.90 226.58 656.10 226.59 657.30 226.39 660.70 225.29 665.50 223.91 666.90 223.59 668.30 223.41 669.50 223.42 670.70 223.53 674.10 224.05 680.50 224.90" fill="none" stroke="#262626" stroke-width="1.45" stroke-linejoin="round" stroke-linecap="round"/>
<path d="M49.5 225.00L52.90 225.22 56.10 225.80 57.50 225.90 58.70 225.74 61.90 225.01 65.70 224.58 68.10 224.51 70.70 224.75 73.30 225.58 74.30 225.70 74.70 225.63 75.30 225.38 77.50 224.02 78.10 223.83 78.50 223.81 78.90 223.93 79.30 224.18 80.90 225.59 81.30 225.81 81.70 225.90 82.50 225.74 84.10 225.00 84.90 224.80 85.30 224.84 85.70 224.97 87.30 225.81 87.70 225.90 88.10 225.86 88.70 225.61 90.30 224.54 90.70 224.36 91.10 224.30 91.90 224.48 93.50 225.28 94.30 225.50 94.70 225.48 95.30 225.36 97.30 224.57 98.10 224.35 98.70 224.30 99.70 224.38 100.90 224.61 102.90 225.71 103.30 225.85 103.70 225.90 104.50 225.85 106.70 225.52 110.30 225.36 111.10 225.12 112.90 224.36 113.50 224.22 113.90 224.20 114.90 224.41 116.90 225.20 118.30 225.51 120.70 225.92 122.50 226.00 124.50 225.90 126.30 225.73 128.90 225.12 132.50 224.66 135.10 223.91 136.10 223.72 137.10 223.76 139.50 224.48 140.10 224.58 140.70 224.57 141.50 224.26 143.30 223.19 143.90 223.01 144.30 223.01 145.10 223.26 146.90 224.17 148.70 224.59 149.30 224.80 149.90 225.30 150.50 226.14 152.10 228.89 153.90 232.41 156.50 237.18 157.50 239.18 157.90 239.77 158.10 239.94 158.30 240.00 158.50 239.97 158.90 239.73 159.50 239.02 160.10 237.99 160.70 236.77 161.10 235.49 161.70 232.77 162.90 226.51 163.70 221.81 164.30 217.54 165.70 205.75 166.70 198.61 168.30 188.71 168.50 187.90 168.70 187.60 168.90 187.89 169.10 188.66 170.10 195.10 170.90 201.86 171.90 211.72 172.30 214.89 172.50 216.00 173.10 218.20 174.10 220.79 174.50 222.00 175.30 224.91 176.10 228.20 176.70 230.96 177.30 234.19 178.70 242.15 179.70 248.52 180.10 249.99 180.30 250.20 180.50 250.11 180.70 249.87 181.10 249.00 182.30 245.09 184.90 237.27 185.70 235.22 190.10 224.74 191.90 219.48 192.50 217.96 192.90 217.16 193.70 215.91 195.10 213.96 195.70 213.35 196.10 213.05 196.50 212.87 196.90 212.80 197.10 212.86 197.50 213.27 198.10 214.44 199.90 219.03 201.50 224.05 201.90 224.93 202.10 225.24 202.30 225.43 202.50 225.50 203.10 225.32 203.50 225.04 204.90 223.81 205.50 223.52 205.90 223.53 206.50 223.89 207.30 224.88 209.10 227.83 209.70 229.03 210.90 231.72 211.50 232.85 212.90 234.97 213.30 235.35 213.70 235.50 213.90 235.46 214.30 235.13 214.70 234.54 215.10 233.78 217.30 229.16 220.90 220.99 221.50 219.75 221.90 219.12 223.30 217.55 224.10 216.90 224.70 216.64 225.30 216.61 226.10 216.70 227.10 216.92 228.10 217.24 228.70 217.60 229.50 218.40 230.30 219.44 231.30 220.92 231.70 221.71 232.90 224.57 233.50 225.83 234.90 228.30 235.30 228.87 235.70 229.26 235.90 229.36 236.30 229.37 236.90 229.02 237.30 228.62 238.90 226.68 241.30 224.53 242.10 224.09 242.50 224.00 242.90 224.04 243.30 224.19 243.70 224.44 244.50 225.16 246.70 227.54 248.70 230.00 250.30 231.54 251.30 232.30 251.70 232.46 252.10 232.49 252.50 232.25 253.10 231.41 253.70 230.15 255.10 226.77 255.70 225.11 257.50 219.31 259.70 213.83 260.30 212.67 260.70 212.13 261.10 211.84 261.30 211.80 261.50 211.87 261.70 212.05 262.10 212.74 262.70 214.35 264.50 220.33 265.90 225.76 266.50 227.73 267.70 231.00 268.30 232.40 268.90 233.31 269.10 233.45 269.30 233.50 269.50 233.44 269.70 233.25 270.10 232.60 271.50 229.21 273.30 225.30 274.10 223.75 274.50 223.13 275.50 221.84 275.90 221.41 276.30 221.11 276.50 221.03 276.90 221.02 277.50 221.29 278.10 221.80 279.50 223.35 280.10 223.92 282.90 225.94 285.90 227.69 286.50 227.91 287.10 228.00 287.50 227.88 288.10 227.32 290.50 223.78 291.90 221.48 292.50 220.77 292.90 220.53 293.10 220.50 293.30 220.53 293.70 220.77 294.10 221.19 294.50 221.76 296.50 225.17 298.70 229.38 300.50 232.14 301.10 232.91 301.50 233.27 301.90 233.47 302.30 233.47 302.70 233.28 303.30 232.69 303.90 231.87 305.10 230.00 305.70 228.94 307.10 225.82 307.70 224.62 308.10 224.00 308.90 223.03 310.30 221.65 312.10 220.19 314.30 218.73 315.70 217.67 316.30 217.37 316.70 217.30 317.10 217.47 317.50 217.93 318.10 218.94 319.10 220.97 320.10 223.87 321.30 227.83 322.50 232.09 323.90 236.24 324.30 237.30 324.70 238.14 325.10 238.67 325.30 238.79 325.50 238.79 325.70 238.72 326.10 238.38 326.70 237.46 327.50 235.73 328.50 233.11 329.10 230.65 330.30 224.92 331.70 219.22 332.50 216.47 332.90 215.50 334.10 213.25 334.70 212.49 335.10 212.23 335.30 212.20 335.50 212.23 335.90 212.42 336.50 213.02 337.30 214.22 338.30 216.00 338.90 217.46 340.50 222.53 341.70 225.17 342.50 226.78 343.10 227.79 343.70 228.52 344.30 228.90 345.50 229.19 346.50 229.30 347.50 229.24 348.70 228.98 350.70 228.37 352.10 227.80 354.10 226.85 356.10 225.62 356.90 225.25 357.50 225.11 357.90 225.10 360.50 225.48 361.10 225.49 361.30 225.45 361.70 225.24 362.90 224.25 363.30 224.00 365.50 223.02 366.30 222.79 367.10 222.70 367.70 222.88 368.30 223.35 368.90 224.03 370.50 226.08 372.70 228.49 373.10 228.80 373.50 228.98 374.10 228.95 374.70 228.72 375.30 228.34 377.50 226.61 378.30 225.91 381.50 222.68 382.30 221.68 383.90 219.47 384.70 218.50 385.30 217.95 385.70 217.69 386.10 217.54 386.50 217.51 386.70 217.56 387.10 217.80 387.90 218.70 389.70 221.57 391.10 223.62 393.50 227.44 394.30 228.56 394.90 229.29 397.50 232.02 398.90 233.30 399.70 233.87 400.30 234.19 400.90 234.41 401.50 234.50 401.90 234.46 402.30 234.29 403.10 233.64 403.90 232.69 405.30 230.69 405.90 229.54 406.50 228.13 408.50 222.96 409.70 219.58 410.30 218.17 410.70 217.50 411.90 215.98 412.50 215.45 413.10 215.21 413.90 215.30 414.90 215.74 416.10 216.58 417.50 217.79 418.10 218.54 418.70 219.48 423.10 227.42 424.10 229.00 426.10 231.30 427.30 232.48 427.90 232.96 428.50 233.32 429.10 233.54 429.50 233.60 429.90 233.55 430.50 233.18 431.10 232.52 431.70 231.61 432.50 230.16 434.30 226.60 434.90 225.11 436.30 221.16 436.90 219.83 437.90 218.30 438.50 217.50 439.10 216.96 439.50 216.81 439.90 216.83 440.30 216.98 440.70 217.21 441.30 217.69 443.70 220.14 445.90 223.07 446.90 224.23 448.50 225.51 450.10 226.51 450.90 226.89 451.90 227.23 454.30 227.84 456.30 228.16 460.50 228.70 461.70 228.80 462.70 228.75 463.70 228.50 464.90 228.01 466.50 227.14 466.90 226.80 467.30 226.35 468.90 224.11 469.70 223.20 471.50 221.58 472.30 220.95 473.30 220.39 474.10 220.20 474.70 220.24 475.50 220.46 476.30 220.83 477.10 221.31 480.10 223.47 482.50 225.87 483.30 226.58 485.30 228.00 485.90 228.29 486.50 228.40 487.30 228.31 488.30 227.98 489.30 227.46 490.50 226.67 491.10 226.22 491.50 225.75 493.10 223.21 494.30 222.08 495.10 221.41 495.90 220.90 496.70 220.62 497.30 220.65 497.70 220.86 498.30 221.41 500.10 223.74 501.30 225.05 503.10 227.22 503.90 228.09 504.90 228.89 505.50 229.15 505.90 229.20 506.30 229.14 506.70 228.96 507.50 228.33 508.30 227.46 509.90 225.52 511.10 224.24 513.30 221.52 514.10 220.86 514.50 220.67 514.90 220.60 515.30 220.65 515.90 220.87 516.50 221.24 517.10 221.73 519.70 224.18 521.50 226.36 521.90 226.76 522.30 227.05 522.70 227.20 523.10 227.26 526.30 227.54 528.70 228.07 529.70 228.20 530.10 228.19 530.70 228.08 531.30 227.85 531.90 227.52 535.50 225.02 538.30 222.86 540.30 221.71 540.90 221.47 541.30 221.40 541.90 221.43 542.70 221.60 545.10 222.54 546.10 223.09 548.50 224.73 550.90 225.98 552.30 226.58 552.90 226.73 553.50 226.80 554.70 226.75 557.50 226.51 563.10 226.50 564.10 226.39 565.50 226.01 568.50 224.89 570.50 223.84 571.30 223.49 571.90 223.33 572.30 223.30 573.10 223.39 573.90 223.63 576.90 225.09 577.90 225.47 581.30 226.40 582.50 226.62 583.50 226.70 584.50 226.63 585.50 226.37 589.30 224.74 593.10 223.50 594.70 223.12 595.90 223.00 596.70 223.05 597.70 223.28 603.90 225.20 608.90 226.59 610.70 226.96 612.10 227.10 613.50 227.02 616.50 226.44 617.70 226.31 620.70 226.30 623.30 226.68 624.30 226.66 625.50 226.34 627.70 225.42 628.50 225.15 632.30 224.43 636.50 223.09 637.50 222.88 638.30 222.80 639.90 222.91 641.70 223.30 645.70 224.48 648.50 225.50 649.70 225.84 652.70 226.36 654.90 226.58 656.10 226.59 657.30 226.39 660.70 225.29 665.50 223.91 666.90 223.59 668.30 223.41 669.50 223.42 670.70 223.53 674.10 224.05 680.50 224.90" fill="none" stroke="#45b44b" stroke-width="1.45" stroke-linejoin="round" stroke-linecap="round"/>
<path d="M49.5 225.00L52.90 225.22 56.10 225.80 57.50 225.90 58.70 225.74 61.90 225.01 65.70 224.58 68.10 224.51 70.70 224.75 73.30 225.58 74.30 225.70 74.70 225.63 75.30 225.38 77.50 224.02 78.10 223.83 78.50 223.81 78.90 223.93 79.30 224.18 80.90 225.59 81.30 225.81 81.70 225.90 82.50 225.74 84.10 225.00 84.90 224.80 85.30 224.84 85.70 224.97 87.30 225.81 87.70 225.90 88.10 225.86 88.70 225.61 90.30 224.54 90.70 224.36 91.10 224.30 91.90 224.48 93.50 225.28 94.30 225.50 94.70 225.48 95.30 225.36 97.30 224.57 98.10 224.35 98.70 224.30 99.70 224.38 100.90 224.61 102.90 225.71 103.30 225.85 103.70 225.90 104.50 225.85 106.70 225.52 110.30 225.36 111.10 225.12 112.90 224.36 113.50 224.22 113.90 224.20 114.90 224.41 116.90 225.20 118.30 225.51 120.70 225.92 122.50 226.00 124.50 225.90 126.30 225.73 128.90 225.12 132.50 224.66 135.10 223.91 136.10 223.72 137.10 223.76 139.50 224.48 140.10 224.58 140.70 224.57 141.50 224.26 143.30 223.19 143.90 223.01 144.30 223.01 145.10 223.26 146.90 224.17 148.70 224.59 149.30 224.80 149.90 225.30 150.50 226.15 152.10 228.87 155.50 235.14 157.30 238.07 157.90 238.82 158.10 238.95 158.50 238.97 158.90 238.75 159.30 238.34 159.90 237.46 160.50 236.39 160.90 235.47 161.50 233.24 162.90 226.73 163.90 221.50 165.70 210.02 167.50 200.01 168.10 197.50 168.30 196.96 168.50 196.62 168.70 196.50 168.90 196.73 169.30 198.30 170.10 203.41 170.50 205.53 171.10 207.47 171.70 209.10 172.30 210.26 172.70 210.68 173.30 211.06 174.50 211.56 175.10 211.99 175.30 212.20 175.50 212.57 175.70 213.21 176.30 216.26 177.30 222.61 178.70 232.95 179.10 235.47 180.30 241.61 180.70 242.98 180.90 243.36 181.10 243.50 181.30 243.46 181.70 243.17 182.10 242.66 182.50 241.99 183.90 239.32 185.10 236.27 185.50 235.44 185.70 235.17 185.90 235.02 186.10 235.00 187.50 235.30 187.70 235.27 187.90 235.05 188.30 234.12 189.30 230.60 190.50 227.22 192.70 221.51 193.50 219.62 193.90 218.84 194.30 218.23 195.10 217.40 196.10 216.58 196.70 216.29 197.10 216.20 197.30 216.21 197.50 216.31 197.90 216.74 199.30 219.21 200.90 221.62 201.50 222.29 201.90 222.49 202.30 222.42 202.90 221.86 204.50 219.26 205.10 218.50 205.50 218.24 205.70 218.20 205.90 218.24 206.30 218.51 206.70 219.01 207.30 220.06 209.10 223.92 210.90 228.51 211.50 229.82 212.50 231.66 213.10 232.62 213.70 233.22 214.10 233.30 214.50 233.23 215.10 233.01 217.30 231.70 218.50 230.89 219.70 229.82 220.30 229.12 220.70 228.48 222.10 225.73 223.50 223.20 224.10 222.17 224.70 221.32 225.90 220.20 226.90 219.42 227.70 218.99 228.50 218.80 228.90 218.84 229.50 219.10 230.10 219.56 230.90 220.35 231.50 221.00 231.90 221.56 233.10 223.96 233.70 224.90 234.70 225.81 235.10 226.08 235.50 226.26 235.90 226.30 236.50 226.13 237.10 225.79 238.70 224.68 240.90 223.88 241.70 223.69 242.50 223.60 242.90 223.64 243.50 223.89 244.50 224.72 246.50 226.80 248.70 229.46 250.90 231.88 251.30 232.23 251.70 232.48 252.10 232.59 252.30 232.59 252.50 232.51 252.90 232.13 253.30 231.53 253.70 230.77 255.30 227.38 257.10 222.82 257.90 221.16 259.30 219.00 260.10 217.95 260.90 217.23 261.50 217.00 261.70 217.01 262.10 217.27 262.50 217.79 262.90 218.51 264.50 221.84 265.70 224.87 266.30 226.14 266.70 226.73 267.70 227.94 268.30 228.49 268.70 228.72 269.10 228.80 269.50 228.71 269.90 228.47 270.50 227.90 271.70 226.48 272.10 225.90 273.70 222.90 274.30 221.95 275.70 220.55 276.30 220.18 276.70 220.10 277.30 220.25 277.90 220.65 279.90 222.72 283.10 225.73 285.70 228.01 286.30 228.41 286.70 228.56 287.10 228.60 287.50 228.50 287.90 228.30 288.50 227.85 290.30 226.22 291.90 224.27 292.50 223.72 292.90 223.53 293.10 223.50 293.70 223.63 294.10 223.83 294.70 224.26 296.50 225.89 298.70 228.66 300.90 231.07 301.30 231.40 301.70 231.62 302.30 231.68 302.90 231.41 303.50 230.90 305.30 228.74 305.90 227.77 307.50 224.69 308.10 223.80 308.70 223.12 309.90 221.99 314.30 218.42 315.70 217.15 316.30 216.78 316.70 216.70 317.10 216.87 317.50 217.34 318.10 218.36 319.10 220.32 320.50 224.09 322.10 229.81 322.70 231.65 323.90 234.63 324.50 235.86 324.90 236.42 325.10 236.60 325.30 236.69 325.50 236.69 325.70 236.63 326.10 236.33 326.70 235.52 327.50 234.01 328.50 231.73 329.10 229.63 330.30 224.79 331.70 219.97 332.50 217.71 333.10 216.74 334.30 215.35 335.10 214.73 335.50 214.56 335.90 214.50 336.50 214.63 337.10 214.95 338.70 216.15 340.10 217.50 340.70 218.00 342.70 219.04 343.30 219.46 343.90 220.06 345.50 222.00 349.70 226.72 350.50 227.54 351.10 228.04 351.70 228.41 352.70 228.88 356.30 230.14 358.90 231.34 359.70 231.60 360.50 231.70 360.70 231.67 361.10 231.44 361.50 231.04 361.90 230.50 363.90 227.40 365.70 224.09 366.30 223.23 366.70 222.86 367.10 222.70 369.10 222.55 374.30 222.49 375.10 222.34 376.70 221.89 377.50 221.80 377.90 221.86 378.50 222.17 379.10 222.64 380.50 223.91 381.10 224.33 381.90 224.62 383.10 224.91 383.90 225.00 384.30 224.94 384.70 224.71 385.90 223.72 386.30 223.53 386.70 223.51 387.30 223.69 388.10 224.15 389.90 225.44 395.50 228.54 398.50 230.83 399.70 231.62 400.30 231.91 400.90 232.11 401.50 232.20 402.10 232.13 402.70 231.87 403.50 231.30 405.10 229.80 405.70 229.09 406.50 227.83 408.30 224.65 409.90 221.50 410.50 220.67 411.50 219.96 412.50 219.42 413.30 219.12 414.10 219.00 415.10 219.09 416.10 219.37 417.30 219.84 418.10 220.40 419.10 221.47 423.70 227.14 426.70 230.32 427.50 231.08 428.30 231.68 428.90 231.97 429.50 232.10 429.90 232.05 430.50 231.69 430.90 231.29 431.50 230.49 434.50 225.44 435.90 222.75 436.70 221.49 437.10 221.10 438.30 220.30 438.90 220.03 439.50 219.90 440.10 219.98 440.90 220.38 442.70 221.81 446.50 224.65 448.90 226.13 450.30 226.83 451.10 227.08 452.10 227.25 458.30 228.00 460.90 228.67 461.90 228.80 462.90 228.74 463.90 228.53 465.10 228.14 466.50 227.55 466.90 227.25 467.30 226.84 468.90 224.71 469.70 223.90 471.50 222.62 472.50 222.01 473.50 221.58 474.50 221.40 475.10 221.44 475.90 221.63 476.70 221.95 477.50 222.36 479.90 223.74 482.30 225.66 483.30 226.28 485.50 226.96 486.50 227.15 487.30 227.20 488.10 227.13 488.90 226.93 489.90 226.54 491.10 225.94 491.70 225.38 493.10 223.67 494.70 222.41 495.50 221.88 496.10 221.59 496.70 221.42 497.30 221.44 497.70 221.61 498.10 221.88 500.30 224.06 503.50 226.60 504.70 227.32 505.30 227.53 505.90 227.60 506.30 227.56 506.90 227.37 507.90 226.78 510.90 224.40 512.90 222.36 513.50 221.82 514.30 221.33 514.90 221.20 515.50 221.28 516.10 221.50 516.90 221.95 519.10 223.36 521.30 224.27 527.50 226.39 528.70 226.69 529.70 226.80 530.70 226.72 531.70 226.45 534.30 225.38 537.30 224.25 538.30 223.93 540.50 223.53 542.10 223.40 544.10 223.48 547.10 223.80 550.90 224.55 552.90 224.84 556.10 225.20 560.10 225.51 563.70 225.99 564.90 225.97 566.50 225.77 569.10 225.34 572.70 224.51 574.30 224.31 576.10 224.39 580.10 225.06 582.90 225.41 584.50 225.50 586.10 225.41 588.90 225.06 592.90 224.39 594.90 224.30 604.30 224.71 605.50 224.92 608.10 225.65 609.30 225.87 617.10 225.92 620.70 226.32 622.70 226.62 623.70 226.70 624.30 226.66 625.10 226.48 627.70 225.42 628.50 225.15 632.30 224.43 636.50 223.09 637.50 222.88 638.30 222.80 639.90 222.91 641.70 223.30 645.70 224.48 648.50 225.50 649.70 225.84 652.70 226.36 654.90 226.58 656.10 226.59 657.30 226.39 660.70 225.29 665.50 223.91 666.90 223.59 668.30 223.41 669.50 223.42 670.70 223.53 674.10 224.05 680.50 224.90" fill="none" stroke="#2a7fc8" stroke-width="1.45" stroke-linejoin="round" stroke-linecap="round"/>
<path d="M49.5 225.00L52.90 225.22 56.10 225.80 57.50 225.90 58.70 225.74 61.90 225.01 65.70 224.58 68.10 224.51 70.70 224.75 73.30 225.58 74.30 225.70 74.70 225.63 75.30 225.38 77.50 224.02 78.10 223.83 78.50 223.81 78.90 223.93 79.30 224.18 80.90 225.59 81.30 225.81 81.70 225.90 82.50 225.74 84.10 225.00 84.90 224.80 85.30 224.84 85.70 224.97 87.30 225.81 87.70 225.90 88.10 225.86 88.70 225.61 90.30 224.54 90.70 224.36 91.10 224.30 91.90 224.48 93.50 225.28 94.30 225.50 94.70 225.48 95.30 225.36 97.30 224.57 98.10 224.35 98.70 224.30 99.70 224.38 100.90 224.61 102.90 225.71 103.30 225.85 103.70 225.90 104.50 225.85 106.70 225.52 110.30 225.36 111.10 225.12 112.90 224.36 113.50 224.22 113.90 224.20 114.90 224.41 116.90 225.20 118.30 225.51 120.70 225.92 122.50 226.00 124.50 225.90 126.30 225.73 128.90 225.12 132.50 224.66 135.10 223.91 136.10 223.72 137.10 223.76 139.50 224.48 140.10 224.58 140.70 224.57 141.50 224.26 143.30 223.19 143.90 223.01 144.30 223.01 145.10 223.26 146.90 224.17 148.70 224.59 149.30 224.80 149.90 225.30 150.50 226.15 152.10 228.87 155.50 235.14 157.30 238.07 157.90 238.82 158.10 238.95 158.50 238.97 158.90 238.75 159.30 238.34 159.90 237.46 160.50 236.40 160.90 235.48 161.50 233.25 162.90 226.71 163.90 221.28 165.70 208.87 167.50 198.19 168.10 195.42 168.50 194.38 168.70 194.23 168.90 194.47 169.10 195.12 169.50 197.30 170.50 203.82 171.90 209.75 172.30 211.01 172.70 211.90 173.10 212.52 174.10 213.80 174.50 214.54 175.10 216.50 175.70 219.38 178.50 235.00 179.90 242.27 180.30 243.88 180.50 244.42 180.70 244.75 180.90 244.83 181.30 244.55 181.90 243.61 183.30 240.51 186.10 234.60 186.90 233.09 188.50 230.40 189.10 229.22 189.90 227.32 192.50 220.61 193.50 218.36 194.10 217.31 195.50 215.43 196.10 214.86 196.70 214.59 196.90 214.60 197.10 214.71 197.50 215.24 197.90 216.07 199.10 219.00 200.90 222.51 201.30 223.14 201.70 223.57 202.10 223.73 202.30 223.70 202.70 223.47 203.10 223.09 204.30 221.70 204.90 221.23 205.30 221.15 205.50 221.20 206.10 221.63 206.50 222.13 207.10 223.10 208.30 225.41 209.30 227.12 211.30 230.87 212.90 233.28 213.30 233.68 213.70 233.83 214.30 233.65 215.10 233.01 217.30 230.64 218.70 228.82 219.90 226.88 221.50 222.95 221.90 222.12 222.90 220.50 223.70 219.43 224.30 218.86 224.90 218.52 226.10 218.03 227.10 217.77 228.10 217.70 228.70 217.88 229.30 218.31 230.10 219.15 231.10 220.41 231.50 221.06 232.90 224.40 233.30 225.21 234.30 226.45 235.10 227.16 235.70 227.36 236.10 227.32 236.50 227.21 237.10 226.92 238.70 225.91 241.30 224.54 242.10 224.27 242.50 224.22 242.90 224.26 243.50 224.52 244.30 225.17 246.70 227.57 248.50 229.52 249.10 230.07 250.90 231.52 251.50 231.85 252.10 231.97 252.50 231.80 252.90 231.37 253.70 229.93 255.50 225.99 257.70 220.24 259.70 216.25 260.30 215.26 260.70 214.76 261.30 214.33 261.70 214.32 261.90 214.46 262.30 215.04 262.90 216.43 264.50 220.84 265.70 224.63 266.30 226.20 267.10 227.57 267.90 228.74 268.50 229.36 268.90 229.58 269.30 229.61 269.70 229.44 270.50 228.69 272.10 226.65 273.70 223.82 274.30 222.89 275.70 221.41 276.10 221.11 276.50 220.94 276.70 220.92 277.10 221.00 277.70 221.38 278.30 221.97 279.90 223.78 282.10 225.45 283.30 226.21 285.70 227.59 286.50 227.91 287.10 228.00 287.30 227.97 287.70 227.77 288.30 227.19 292.10 222.33 292.70 221.87 293.10 221.77 293.30 221.79 293.70 221.99 294.10 222.33 294.50 222.80 296.70 225.81 298.50 228.47 300.50 230.86 301.30 231.61 301.70 231.84 302.10 231.92 302.70 231.75 303.30 231.30 303.90 230.67 305.30 228.95 305.90 227.98 307.70 224.60 308.10 224.04 308.70 223.37 309.90 222.29 315.50 217.77 316.10 217.40 316.70 217.25 317.10 217.41 317.50 217.84 318.10 218.81 319.10 220.68 319.70 222.17 320.50 224.44 322.10 229.96 322.70 231.78 324.30 235.70 324.90 236.66 325.30 236.94 325.50 236.94 325.90 236.75 326.50 236.07 327.30 234.63 328.30 232.45 328.90 230.53 330.30 224.78 331.50 220.40 332.10 218.39 332.50 217.29 333.10 216.16 334.30 214.45 334.70 214.04 335.10 213.75 335.70 213.61 336.10 213.72 336.70 214.15 338.70 216.48 340.90 219.82 342.90 223.12 344.10 224.77 344.90 225.73 345.70 226.57 346.50 227.23 348.10 228.20 349.30 228.71 350.30 228.85 351.50 228.70 354.10 228.07 356.50 227.31 357.50 227.08 360.50 226.99 360.90 226.90 361.50 226.55 363.10 225.10 365.50 223.23 366.30 222.77 366.90 222.60 367.30 222.60 367.90 222.73 368.90 223.19 371.10 224.57 372.70 225.94 373.30 226.28 373.70 226.36 374.70 226.29 377.50 225.72 379.50 225.10 381.50 224.20 382.50 223.35 384.30 221.38 385.10 220.63 385.90 220.14 386.50 220.02 387.10 220.20 387.90 220.86 389.70 223.01 392.90 226.55 393.90 227.62 394.90 228.54 397.90 231.06 399.10 231.94 400.30 232.56 400.90 232.75 401.50 232.83 401.90 232.79 402.30 232.64 403.10 232.05 403.90 231.21 405.50 229.24 406.70 227.19 408.30 224.11 409.70 221.15 410.50 219.80 411.50 218.73 412.30 218.01 413.10 217.55 413.70 217.45 414.50 217.59 415.30 217.92 416.50 218.64 417.70 219.50 418.70 220.61 422.50 225.77 424.10 227.76 426.50 230.31 427.50 231.27 428.50 231.97 429.10 232.21 429.50 232.28 429.90 232.23 430.50 231.87 430.90 231.46 431.50 230.66 434.50 225.53 436.10 222.18 436.70 221.18 437.10 220.73 438.30 219.78 438.90 219.45 439.50 219.30 440.10 219.38 440.90 219.80 446.70 224.67 448.90 226.09 450.30 226.80 451.10 227.06 451.90 227.22 458.30 228.05 460.90 228.68 461.90 228.80 462.90 228.73 463.90 228.52 465.10 228.12 466.50 227.52 466.90 227.22 467.30 226.81 468.90 224.69 469.70 223.89 471.50 222.62 472.50 222.01 473.50 221.58 474.50 221.40 475.10 221.44 475.90 221.63 476.70 221.95 477.50 222.36 479.90 223.74 482.30 225.66 483.30 226.28 485.50 226.96 486.50 227.15 487.30 227.20 488.10 227.13 488.90 226.93 489.90 226.54 491.10 225.94 491.70 225.38 493.10 223.67 494.70 222.41 495.50 221.88 496.10 221.59 496.70 221.42 497.30 221.44 497.90 221.72 498.50 222.20 500.10 223.85 501.30 224.91 503.90 227.46 504.90 228.14 505.50 228.36 505.90 228.40 506.30 228.35 506.70 228.21 507.50 227.73 510.90 224.67 513.30 222.19 514.10 221.62 514.50 221.46 514.90 221.40 515.50 221.48 516.30 221.82 519.10 223.73 523.50 226.04 527.70 227.94 528.90 228.29 529.90 228.40 530.90 228.23 531.90 227.79 535.30 225.71 537.50 224.21 538.50 223.66 540.70 222.92 541.50 222.75 542.10 222.70 544.50 222.80 547.30 223.13 548.30 223.44 550.90 224.60 554.30 225.56 556.30 225.93 560.10 226.31 562.90 226.97 564.10 227.10 564.70 227.05 565.50 226.86 567.70 226.05 572.10 224.70 573.50 224.39 574.70 224.30 576.30 224.42 579.70 225.01 582.10 225.32 584.30 225.50 585.50 225.46 586.90 225.32 589.30 225.01 592.50 224.44 593.90 224.31 596.30 224.34 602.70 224.61 604.30 224.71 605.10 224.83 608.10 225.65 609.30 225.87 617.10 225.92 620.70 226.32 622.90 226.65 623.90 226.70 624.50 226.63 625.30 226.42 627.70 225.42 628.50 225.15 632.30 224.43 636.50 223.09 637.50 222.88 638.30 222.80 639.90 222.91 641.70 223.30 645.70 224.48 648.50 225.50 649.70 225.84 652.70 226.36 654.90 226.58 656.10 226.59 657.30 226.39 660.70 225.29 665.50 223.91 666.90 223.59 668.30 223.41 669.50 223.42 670.70 223.53 674.10 224.05 680.50 224.90" fill="none" stroke="#ffc21f" stroke-width="1.45" stroke-linejoin="round" stroke-linecap="round"/>
<path d="M49.5 225.00L52.90 225.22 56.10 225.80 57.50 225.90 58.70 225.74 61.90 225.01 65.70 224.58 68.10 224.51 70.70 224.75 73.30 225.58 74.30 225.70 74.70 225.63 75.30 225.38 77.50 224.02 78.10 223.83 78.50 223.81 78.90 223.93 79.30 224.18 80.90 225.59 81.30 225.81 81.70 225.90 82.50 225.74 84.10 225.00 84.90 224.80 85.30 224.84 85.70 224.97 87.30 225.81 87.70 225.90 88.10 225.86 88.70 225.61 90.30 224.54 90.70 224.36 91.10 224.30 91.90 224.48 93.50 225.28 94.30 225.50 94.70 225.48 95.30 225.36 97.30 224.57 98.10 224.35 98.70 224.30 99.70 224.38 100.90 224.61 102.90 225.71 103.30 225.85 103.70 225.90 104.50 225.85 106.70 225.52 110.30 225.36 111.10 225.12 112.90 224.36 113.50 224.22 113.90 224.20 114.90 224.41 116.90 225.20 118.30 225.51 120.70 225.92 122.50 226.00 124.50 225.90 126.30 225.73 128.90 225.12 132.50 224.66 135.10 223.91 136.10 223.72 137.10 223.76 139.50 224.48 140.10 224.58 140.70 224.57 141.50 224.26 143.30 223.19 143.90 223.01 144.30 223.01 145.10 223.26 146.90 224.17 148.70 224.59 149.30 224.80 149.90 225.30 150.50 226.15 152.10 228.87 155.50 235.14 157.30 238.07 157.90 238.82 158.10 238.95 158.50 238.97 158.90 238.75 159.30 238.34 159.90 237.46 160.50 236.40 160.90 235.49 161.50 233.26 162.90 226.71 163.90 221.27 165.70 208.82 167.50 198.12 168.10 195.33 168.50 194.26 168.70 194.11 168.90 194.35 169.10 195.00 169.50 197.17 170.50 203.70 171.50 208.24 172.10 210.58 172.70 212.12 173.10 212.77 174.10 214.09 174.50 214.84 175.10 216.80 175.90 220.73 178.50 235.21 179.90 242.51 180.30 244.10 180.50 244.62 180.70 244.93 180.90 244.99 181.30 244.68 181.90 243.71 183.30 240.56 186.10 234.59 186.90 233.07 188.50 230.34 189.10 229.15 189.90 227.25 192.50 220.53 193.50 218.31 194.10 217.27 195.50 215.39 196.10 214.83 196.70 214.57 196.90 214.57 197.10 214.68 197.50 215.21 197.90 216.03 199.10 218.95 200.90 222.52 201.30 223.16 201.70 223.61 202.10 223.78 202.30 223.76 202.70 223.55 203.10 223.18 204.30 221.80 204.90 221.34 205.30 221.25 205.50 221.29 205.90 221.53 206.30 221.94 207.10 223.16 211.30 230.93 212.90 233.34 213.30 233.74 213.70 233.88 214.30 233.70 215.10 233.04 217.30 230.59 218.70 228.73 219.90 226.76 221.30 223.31 221.90 222.03 222.90 220.43 223.50 219.60 224.10 218.97 224.70 218.58 225.90 218.07 227.10 217.76 228.10 217.71 228.70 217.90 229.30 218.33 230.10 219.17 231.10 220.43 231.50 221.09 232.90 224.41 233.30 225.22 234.30 226.48 235.10 227.21 235.70 227.42 236.10 227.40 236.50 227.28 237.10 226.98 238.70 225.95 241.30 224.55 242.10 224.27 242.50 224.22 242.90 224.25 243.50 224.52 244.30 225.17 246.70 227.57 248.50 229.53 249.10 230.08 250.90 231.54 251.50 231.87 252.10 231.99 252.50 231.82 252.90 231.38 253.70 229.93 255.50 225.98 257.70 220.21 259.70 216.19 260.30 215.21 260.70 214.71 261.30 214.28 261.70 214.28 261.90 214.42 262.30 215.01 262.90 216.41 264.50 220.84 265.70 224.65 266.30 226.24 267.10 227.63 267.90 228.83 268.50 229.48 268.90 229.71 269.10 229.75 269.50 229.68 269.90 229.42 270.30 229.03 272.10 226.70 273.70 223.84 274.30 222.92 275.70 221.43 276.10 221.13 276.50 220.96 276.70 220.93 277.10 221.02 277.70 221.39 278.30 221.98 279.90 223.78 282.30 225.58 285.70 227.59 286.50 227.91 287.10 228.00 287.30 227.97 287.70 227.77 288.30 227.19 292.10 222.30 292.70 221.84 293.10 221.74 293.30 221.76 293.70 221.96 294.10 222.30 294.50 222.77 296.70 225.81 298.50 228.49 300.50 230.91 301.30 231.66 301.70 231.89 302.10 231.97 302.70 231.80 303.30 231.35 303.90 230.71 305.30 228.98 305.90 228.00 307.70 224.60 308.10 224.04 308.70 223.38 309.90 222.29 315.50 217.80 316.10 217.43 316.70 217.28 317.10 217.44 317.50 217.87 318.10 218.83 319.10 220.71 319.70 222.19 320.50 224.47 322.10 229.98 322.70 231.81 324.30 235.76 324.90 236.72 325.30 237.00 325.50 237.01 325.90 236.82 326.50 236.13 327.30 234.68 328.30 232.49 328.90 230.57 330.30 224.79 331.50 220.41 332.10 218.39 332.50 217.29 332.90 216.47 334.10 214.68 334.90 213.87 335.50 213.61 335.90 213.64 336.50 213.98 337.10 214.58 338.50 216.26 339.50 217.73 342.90 223.28 343.90 224.66 344.90 225.85 345.70 226.66 346.50 227.30 348.10 228.23 349.30 228.72 350.30 228.84 351.50 228.68 354.10 228.03 356.30 227.30 357.30 227.05 358.10 226.97 360.50 226.94 360.90 226.86 361.50 226.51 363.10 225.07 365.30 223.37 366.10 222.87 366.90 222.62 367.30 222.62 367.90 222.75 368.90 223.22 371.10 224.64 372.70 226.02 373.30 226.37 373.70 226.45 374.30 226.42 375.90 226.14 378.70 225.40 379.90 224.93 381.30 224.27 381.70 224.01 382.30 223.49 384.30 221.31 385.10 220.56 385.90 220.07 386.50 219.95 387.10 220.13 387.90 220.80 389.70 222.97 393.10 226.78 394.10 227.83 394.90 228.57 397.90 231.11 399.10 231.99 400.30 232.62 400.90 232.80 401.50 232.88 401.90 232.85 402.30 232.70 403.10 232.11 403.90 231.26 405.50 229.28 406.70 227.20 408.30 224.09 409.70 221.11 410.50 219.75 411.50 218.67 412.30 217.95 413.10 217.50 413.70 217.40 414.50 217.54 415.30 217.88 416.50 218.60 417.70 219.47 418.90 220.85 420.90 223.65 423.10 226.58 424.10 227.80 426.50 230.35 427.50 231.32 428.50 232.02 429.10 232.26 429.50 232.32 429.90 232.28 430.50 231.91 431.10 231.26 431.70 230.39 434.50 225.55 436.10 222.18 436.70 221.16 437.10 220.70 438.30 219.72 438.90 219.38 439.50 219.23 440.10 219.31 440.90 219.73 443.90 222.22 446.70 224.65 448.90 226.08 450.30 226.79 451.10 227.06 451.90 227.22 458.30 228.06 460.90 228.68 461.90 228.80 462.90 228.73 463.90 228.52 465.10 228.11 466.50 227.51 466.90 227.21 467.30 226.80 468.90 224.69 469.70 223.89 471.50 222.62 472.50 222.01 473.50 221.58 474.50 221.40 475.10 221.44 475.90 221.63 476.70 221.95 477.50 222.36 479.90 223.74 482.30 225.66 483.30 226.28 485.50 226.96 486.50 227.15 487.30 227.20 488.10 227.13 488.90 226.93 489.90 226.54 491.10 225.94 491.70 225.38 493.10 223.67 494.70 222.41 495.50 221.88 496.10 221.59 496.70 221.42 497.30 221.44 497.90 221.72 498.50 222.20 500.10 223.85 501.30 224.91 503.90 227.46 504.90 228.14 505.50 228.36 505.90 228.40 506.30 228.35 506.70 228.21 507.50 227.73 510.90 224.67 513.30 222.19 514.10 221.62 514.50 221.46 514.90 221.40 515.50 221.48 516.30 221.82 519.10 223.73 523.50 226.04 527.70 227.94 528.90 228.29 529.90 228.40 530.90 228.23 531.90 227.79 535.30 225.71 537.50 224.21 538.50 223.66 540.70 222.92 541.50 222.75 542.10 222.70 544.50 222.80 547.30 223.13 548.30 223.44 550.90 224.60 554.30 225.56 556.30 225.93 560.10 226.31 562.90 226.97 564.10 227.10 564.70 227.05 565.50 226.86 567.70 226.05 572.10 224.70 573.50 224.39 574.70 224.30 576.30 224.42 579.70 225.01 582.10 225.32 584.30 225.50 585.50 225.46 586.90 225.32 589.30 225.01 592.50 224.44 593.90 224.31 596.30 224.34 602.70 224.61 604.30 224.71 605.10 224.83 608.10 225.65 609.30 225.87 617.10 225.92 620.70 226.32 622.90 226.65 623.90 226.70 624.50 226.63 625.30 226.42 627.70 225.42 628.50 225.15 632.30 224.43 636.50 223.09 637.50 222.88 638.30 222.80 639.90 222.91 641.70 223.30 645.70 224.48 648.50 225.50 649.70 225.84 652.70 226.36 654.90 226.58 656.10 226.59 657.30 226.39 660.70 225.29 665.50 223.91 666.90 223.59 668.30 223.41 669.50 223.42 670.70 223.53 674.10 224.05 680.50 224.90" fill="none" stroke="#ff73eb" stroke-width="1.45" stroke-linejoin="round" stroke-linecap="round"/>
<path d="M49.5 225.00L52.90 225.22 56.10 225.80 57.50 225.90 58.70 225.74 61.90 225.01 65.70 224.58 68.10 224.51 70.70 224.75 73.30 225.58 74.30 225.70 74.70 225.63 75.30 225.38 77.50 224.02 78.10 223.83 78.50 223.81 78.90 223.93 79.30 224.18 80.90 225.59 81.30 225.81 81.70 225.90 82.50 225.74 84.10 225.00 84.90 224.80 85.30 224.84 85.70 224.97 87.30 225.81 87.70 225.90 88.10 225.86 88.70 225.61 90.30 224.54 90.70 224.36 91.10 224.30 91.90 224.48 93.50 225.28 94.30 225.50 94.70 225.48 95.30 225.36 97.30 224.57 98.10 224.35 98.70 224.30 99.70 224.38 100.90 224.61 102.90 225.71 103.30 225.85 103.70 225.90 104.50 225.85 106.70 225.52 110.30 225.36 111.10 225.12 112.90 224.36 113.50 224.22 113.90 224.20 114.90 224.41 116.90 225.20 118.30 225.51 120.70 225.92 122.50 226.00 124.50 225.90 126.30 225.73 128.90 225.12 132.50 224.66 135.10 223.91 136.10 223.72 137.10 223.76 139.50 224.48 140.10 224.58 140.70 224.57 141.50 224.26 143.30 223.19 143.90 223.01 144.30 223.01 145.10 223.26 146.90 224.17 148.70 224.59 149.30 224.80 149.90 225.30 150.50 226.15 152.10 228.87 155.50 235.14 157.30 238.07 157.90 238.82 158.10 238.95 158.50 238.97 158.90 238.75 159.30 238.34 159.90 237.46 160.50 236.39 160.90 235.47 161.50 233.24 162.90 226.73 163.90 221.50 165.70 210.02 167.50 200.01 168.10 197.50 168.30 196.96 168.50 196.62 168.70 196.50 168.90 196.72 169.10 197.33 169.50 199.38 170.50 205.49 171.50 209.00 172.10 210.67 172.50 211.50 172.90 212.09 174.10 213.36 174.50 214.00 174.70 214.47 175.10 215.84 175.70 218.68 177.10 226.17 178.50 234.18 179.90 241.30 180.50 243.65 180.70 244.05 180.90 244.20 181.30 244.02 181.90 243.23 186.30 234.26 188.90 229.90 189.50 228.58 192.70 220.70 193.70 218.58 194.10 217.94 195.50 216.12 196.10 215.56 196.70 215.31 196.90 215.32 197.10 215.43 197.50 215.96 199.10 219.55 200.90 222.68 201.30 223.19 201.70 223.52 202.10 223.59 202.30 223.54 202.70 223.28 204.30 221.50 204.90 221.06 205.10 221.01 205.50 221.06 206.10 221.52 206.50 222.03 207.10 223.00 211.30 230.65 212.90 233.05 213.30 233.45 213.70 233.60 214.10 233.53 214.50 233.34 215.30 232.73 217.50 230.64 218.90 228.94 219.90 227.36 221.30 223.96 221.90 222.67 222.90 221.07 223.70 219.99 224.30 219.43 225.30 218.88 226.50 218.38 227.50 218.14 228.30 218.12 228.90 218.35 229.50 218.81 230.30 219.65 231.10 220.60 231.50 221.22 232.90 224.42 233.30 225.19 233.50 225.48 234.30 226.34 235.10 226.97 235.70 227.10 236.50 226.92 237.10 226.66 238.70 225.78 241.30 224.58 242.10 224.35 242.90 224.33 243.50 224.59 244.30 225.21 246.70 227.57 248.90 229.85 250.90 231.45 251.50 231.78 251.90 231.89 252.30 231.86 252.70 231.56 253.10 231.02 253.50 230.30 255.50 226.03 257.50 221.09 259.50 217.32 260.50 215.81 261.10 215.26 261.50 215.11 261.70 215.11 262.10 215.44 262.70 216.54 264.50 221.11 265.70 224.62 266.30 226.08 266.70 226.74 267.70 228.12 268.30 228.75 268.70 229.01 269.10 229.10 269.50 229.02 269.90 228.80 270.50 228.28 271.70 226.99 272.10 226.47 273.70 223.79 274.30 222.93 275.70 221.56 276.10 221.28 276.50 221.12 276.70 221.10 277.10 221.18 277.70 221.54 278.30 222.11 279.90 223.85 282.30 225.58 285.70 227.59 286.30 227.85 286.90 227.99 287.30 227.97 287.90 227.62 288.50 226.97 289.50 225.67 290.50 224.55 291.90 222.82 292.50 222.30 292.90 222.12 293.10 222.10 293.30 222.12 293.70 222.30 294.50 223.05 296.70 225.85 298.50 228.39 300.50 230.69 301.30 231.41 301.70 231.62 302.10 231.70 302.70 231.54 303.30 231.11 303.90 230.51 305.30 228.85 305.90 227.91 307.50 224.94 308.10 224.10 308.70 223.48 309.70 222.62 315.50 218.10 316.10 217.74 316.70 217.60 317.10 217.75 317.70 218.44 318.90 220.45 319.30 221.29 320.70 224.98 322.10 229.86 322.70 231.65 324.30 235.48 324.90 236.42 325.30 236.69 325.50 236.69 325.90 236.50 326.50 235.83 327.30 234.42 328.30 232.27 328.90 230.39 330.30 224.79 331.70 220.01 332.50 217.75 333.10 216.71 334.30 215.13 334.70 214.75 335.10 214.47 335.70 214.30 336.30 214.48 336.90 214.94 339.30 217.50 340.90 219.58 343.10 222.90 344.70 225.03 345.70 226.21 346.50 226.95 347.90 227.94 348.70 228.43 349.50 228.77 350.30 228.90 351.30 228.82 354.10 228.24 357.30 227.39 358.10 227.29 360.70 227.17 361.10 226.99 361.50 226.72 362.90 225.42 365.50 223.35 366.30 222.88 366.90 222.71 367.30 222.71 367.90 222.81 368.50 223.00 369.30 223.36 371.10 224.31 372.70 225.59 373.10 225.84 373.50 225.98 374.30 225.99 375.50 225.88 378.50 225.42 380.30 224.92 381.30 224.56 381.70 224.34 382.50 223.71 384.30 221.89 385.10 221.18 385.90 220.72 386.50 220.60 387.10 220.76 387.90 221.35 389.70 223.31 393.90 227.56 394.70 228.28 397.70 230.72 398.70 231.47 399.70 232.07 400.70 232.47 401.50 232.60 401.90 232.56 402.30 232.42 403.10 231.84 403.90 231.01 405.50 229.09 406.70 227.13 409.90 221.20 410.50 220.32 411.50 219.33 412.30 218.66 413.10 218.21 413.70 218.10 414.50 218.21 415.50 218.61 417.30 219.66 417.90 220.14 418.90 221.21 423.70 227.15 426.70 230.32 427.50 231.08 428.30 231.68 428.90 231.97 429.50 232.10 429.90 232.05 430.50 231.69 430.90 231.29 431.50 230.49 434.50 225.44 435.90 222.75 436.70 221.49 437.10 221.10 438.30 220.30 438.90 220.03 439.50 219.90 440.10 219.98 440.90 220.38 442.70 221.81 446.50 224.65 448.90 226.13 450.30 226.83 451.10 227.08 452.10 227.25 458.30 228.00 460.90 228.67 461.90 228.80 462.90 228.74 463.90 228.53 465.10 228.14 466.50 227.55 466.90 227.25 467.30 226.84 468.90 224.71 469.70 223.90 471.50 222.62 472.50 222.01 473.50 221.58 474.50 221.40 475.10 221.44 475.90 221.63 476.70 221.95 477.50 222.36 479.90 223.74 482.30 225.66 483.30 226.28 485.50 226.96 486.50 227.15 487.30 227.20 488.10 227.13 488.90 226.93 489.90 226.54 491.10 225.94 491.70 225.38 493.10 223.67 494.70 222.41 495.50 221.88 496.10 221.59 496.70 221.42 497.30 221.44 497.90 221.72 498.50 222.20 500.10 223.85 501.30 224.91 503.90 227.46 504.90 228.14 505.50 228.36 505.90 228.40 506.30 228.35 506.70 228.21 507.50 227.73 510.90 224.67 513.30 222.19 514.10 221.62 514.50 221.46 514.90 221.40 515.50 221.48 516.30 221.82 519.10 223.73 523.50 226.04 527.70 227.94 528.90 228.29 529.90 228.40 530.90 228.23 531.90 227.79 535.30 225.71 537.50 224.21 538.50 223.66 540.70 222.92 541.50 222.75 542.10 222.70 544.50 222.80 547.30 223.13 548.30 223.44 550.90 224.60 554.30 225.56 556.30 225.93 560.10 226.31 562.90 226.97 564.10 227.10 564.70 227.05 565.50 226.86 567.70 226.05 572.10 224.70 573.50 224.39 574.70 224.30 576.30 224.42 579.70 225.01 582.10 225.32 584.30 225.50 585.50 225.46 586.90 225.32 589.30 225.01 592.50 224.44 593.90 224.31 596.30 224.34 602.70 224.61 604.30 224.71 605.10 224.83 608.10 225.65 609.30 225.87 617.10 225.92 620.70 226.32 622.90 226.65 623.90 226.70 624.50 226.63 625.30 226.42 627.70 225.42 628.50 225.15 632.30 224.43 636.50 223.09 637.50 222.88 638.30 222.80 639.90 222.91 641.70 223.30 645.70 224.48 648.50 225.50 649.70 225.84 652.70 226.36 654.90 226.58 656.10 226.59 657.30 226.39 660.70 225.29 665.50 223.91 666.90 223.59 668.30 223.41 669.50 223.42 670.70 223.53 674.10 224.05 680.50 224.90" fill="none" stroke="#7633ab" stroke-width="1.45" stroke-linejoin="round" stroke-linecap="round"/>
<text transform="translate(49.50 247.0) scale(1.05 1.06)" class="tk" text-anchor="middle">0</text>
<text transform="translate(207.25 247.0) scale(1.05 1.06)" class="tk" text-anchor="middle">1</text>
<text transform="translate(365.00 247.0) scale(1.05 1.06)" class="tk" text-anchor="middle">2</text>
<text transform="translate(522.75 247.0) scale(1.05 1.06)" class="tk" text-anchor="middle">3</text>
<text transform="translate(680.50 247.0) scale(1.05 1.06)" class="tk" text-anchor="middle">4</text>
<text transform="translate(37.6 176.9) scale(1.05 1.06)" class="tk" text-anchor="end">3</text>
<text transform="translate(37.6 229.9) scale(1.05 1.06)" class="tk" text-anchor="end">0</text>
<text transform="translate(37.6 281.9) scale(1.05 1.06)" class="tk" text-anchor="end">-3</text>
<path d="M242.0 188.50 h27.2" stroke="#ff2020" stroke-width="1.40"/>
<text transform="translate(270.80 192.6) scale(1.000 1.11)" class="lg">SRC</text>
<path d="M307.0 188.50 h27.2" stroke="#262626" stroke-width="1.40"/>
<text transform="translate(335.80 192.6) scale(1.010 1.11)" class="lg">LRC</text>
<path d="M372.5 188.50 h27.2" stroke="#45b44b" stroke-width="1.40"/>
<text transform="translate(401.20 192.6) scale(1.090 1.11)" class="lg">CC</text>
<path d="M431.3 188.50 h27.2" stroke="#2a7fc8" stroke-width="1.40"/>
<text transform="translate(460.30 192.6) scale(1.000 1.11)" class="lg">B</text>
<path d="M480.0 188.50 h27.2" stroke="#ffc21f" stroke-width="1.40"/>
<text transform="translate(508.80 192.6) scale(0.965 1.11)" class="lg">SLB1</text>
<path d="M549.0 188.50 h27.2" stroke="#ff73eb" stroke-width="1.40"/>
<text transform="translate(577.30 192.6) scale(0.995 1.11)" class="lg">SLB2</text>
<path d="M618.2 188.50 h27.2" stroke="#7633ab" stroke-width="1.40"/>
<text transform="translate(646.30 192.6) scale(0.995 1.11)" class="lg">SLB3</text>
<text x="329" y="264.0" class="ttl">Time [s]</text>
<text transform="translate(12.2 250.1) rotate(-90)" class="ttl"><tspan font-style="italic">a</tspan> [m/s<tspan font-size="7.5" dy="-5.6">2</tspan><tspan dy="5.6">]</tspan></text>
<text x="343.5" y="146.5" class="capa" text-anchor="middle">(a)</text>
<text x="343.5" y="315.3" class="capb" text-anchor="middle">(b)</text>
</svg></div>
</body></html>
